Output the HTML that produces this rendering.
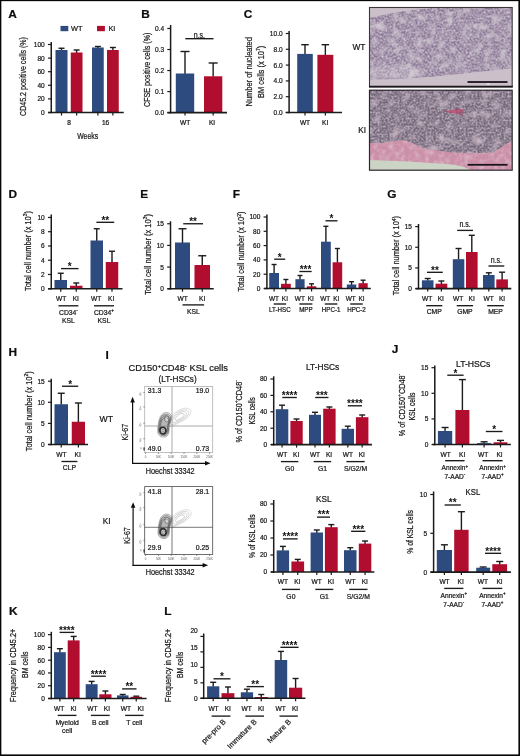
<!DOCTYPE html>
<html lang="en">
<head>
<meta charset="utf-8">
<title>Figure</title>
<style>
html,body{margin:0;padding:0;background:#fff;}
body{width:520px;height:756px;overflow:hidden;}
svg{display:block;font-family:"Liberation Sans",sans-serif;}
svg text{stroke:#1a1a1a;stroke-width:0.22px;}
</style>
</head>
<body>
<svg width="520" height="756" viewBox="0 0 520 756">
<defs><filter id="soft" x="0" y="0" width="100%" height="100%" filterUnits="objectBoundingBox"><feGaussianBlur stdDeviation="0.38"/></filter></defs>
<g filter="url(#soft)">
<rect x="0" y="0" width="520" height="756" fill="#ffffff"/>
<text transform="translate(8.2 18.4) scale(1.080 1)" font-size="11" text-anchor="start" fill="#0c0c0c" font-weight="700">A</text>
<rect x="60.5" y="25.9" width="7.8" height="5.3" fill="#2d4b7f"/>
<text transform="translate(71.1 31)" font-size="7.4" text-anchor="start" fill="#161616">WT</text>
<rect x="97" y="25.9" width="7.9" height="5.3" fill="#b10a2d"/>
<text transform="translate(108.4 31) scale(0.980 1)" font-size="7.4" text-anchor="start" fill="#161616">KI</text>
<line x1="61.5" y1="50.5" x2="61.5" y2="48.25" stroke="#1c1c1c" stroke-width="1.4"/>
<line x1="58.5" y1="48.25" x2="64.5" y2="48.25" stroke="#1c1c1c" stroke-width="1.4"/>
<rect x="55.5" y="50" width="12" height="62.5" fill="#2d4b7f"/>
<line x1="61.5" y1="112.5" x2="61.5" y2="115.5" stroke="#1a1a1a" stroke-width="1.2"/>
<line x1="76.62" y1="53" x2="76.62" y2="50" stroke="#1c1c1c" stroke-width="1.4"/>
<line x1="73.62" y1="50" x2="79.62" y2="50" stroke="#1c1c1c" stroke-width="1.4"/>
<rect x="70.75" y="52.5" width="11.75" height="60" fill="#b10a2d"/>
<line x1="76.62" y1="112.5" x2="76.62" y2="115.5" stroke="#1a1a1a" stroke-width="1.2"/>
<line x1="97.88" y1="48" x2="97.88" y2="46.5" stroke="#1c1c1c" stroke-width="1.4"/>
<line x1="94.88" y1="46.5" x2="100.88" y2="46.5" stroke="#1c1c1c" stroke-width="1.4"/>
<rect x="92" y="47.5" width="11.75" height="65" fill="#2d4b7f"/>
<line x1="97.88" y1="112.5" x2="97.88" y2="115.5" stroke="#1a1a1a" stroke-width="1.2"/>
<line x1="112.88" y1="50.5" x2="112.88" y2="47.5" stroke="#1c1c1c" stroke-width="1.4"/>
<line x1="109.88" y1="47.5" x2="115.88" y2="47.5" stroke="#1c1c1c" stroke-width="1.4"/>
<rect x="107" y="50" width="11.75" height="62.5" fill="#b10a2d"/>
<line x1="112.88" y1="112.5" x2="112.88" y2="115.5" stroke="#1a1a1a" stroke-width="1.2"/>
<line x1="51.25" y1="42" x2="51.25" y2="113.3" stroke="#1a1a1a" stroke-width="1.5"/>
<line x1="48" y1="112.5" x2="123.75" y2="112.5" stroke="#1a1a1a" stroke-width="1.6"/>
<line x1="47.95" y1="112.5" x2="51.25" y2="112.5" stroke="#1a1a1a" stroke-width="1.2"/>
<text transform="translate(44.75 114.95) scale(0.950 1)" font-size="6.9" text-anchor="end" fill="#161616">0</text>
<line x1="47.95" y1="98.9" x2="51.25" y2="98.9" stroke="#1a1a1a" stroke-width="1.2"/>
<text transform="translate(44.75 101.35) scale(0.950 1)" font-size="6.9" text-anchor="end" fill="#161616">20</text>
<line x1="47.95" y1="85.3" x2="51.25" y2="85.3" stroke="#1a1a1a" stroke-width="1.2"/>
<text transform="translate(44.75 87.75) scale(0.950 1)" font-size="6.9" text-anchor="end" fill="#161616">40</text>
<line x1="47.95" y1="71.7" x2="51.25" y2="71.7" stroke="#1a1a1a" stroke-width="1.2"/>
<text transform="translate(44.75 74.15) scale(0.950 1)" font-size="6.9" text-anchor="end" fill="#161616">60</text>
<line x1="47.95" y1="58.1" x2="51.25" y2="58.1" stroke="#1a1a1a" stroke-width="1.2"/>
<text transform="translate(44.75 60.55) scale(0.950 1)" font-size="6.9" text-anchor="end" fill="#161616">80</text>
<line x1="47.95" y1="44.5" x2="51.25" y2="44.5" stroke="#1a1a1a" stroke-width="1.2"/>
<text transform="translate(44.75 46.95) scale(0.950 1)" font-size="6.9" text-anchor="end" fill="#161616">100</text>
<text transform="translate(69 125)" font-size="6.6" text-anchor="middle" fill="#161616">8</text>
<text transform="translate(105.6 125)" font-size="6.6" text-anchor="middle" fill="#161616">16</text>
<text transform="translate(87.7 138.6) scale(0.768 1)" font-size="9" text-anchor="middle" fill="#161616">Weeks</text>
<text transform="translate(26.1 76.5) rotate(-90) scale(0.786 1)" font-size="9" text-anchor="middle" fill="#161616">CD45.2 positive cells (%)</text>
<text transform="translate(141.2 17.8) scale(1.080 1)" font-size="11" text-anchor="start" fill="#0c0c0c" font-weight="700">B</text>
<line x1="185" y1="74" x2="185" y2="51.5" stroke="#1c1c1c" stroke-width="1.4"/>
<line x1="180.5" y1="51.5" x2="189.5" y2="51.5" stroke="#1c1c1c" stroke-width="1.4"/>
<rect x="175.8" y="73.5" width="18.4" height="39.1" fill="#2d4b7f"/>
<line x1="185" y1="112.6" x2="185" y2="115.6" stroke="#1a1a1a" stroke-width="1.2"/>
<line x1="213.15" y1="76.8" x2="213.15" y2="63" stroke="#1c1c1c" stroke-width="1.4"/>
<line x1="208.65" y1="63" x2="217.65" y2="63" stroke="#1c1c1c" stroke-width="1.4"/>
<rect x="204" y="76.3" width="18.3" height="36.3" fill="#b10a2d"/>
<line x1="213.15" y1="112.6" x2="213.15" y2="115.6" stroke="#1a1a1a" stroke-width="1.2"/>
<line x1="170.6" y1="25" x2="170.6" y2="113.4" stroke="#1a1a1a" stroke-width="1.5"/>
<line x1="167.5" y1="112.6" x2="227" y2="112.6" stroke="#1a1a1a" stroke-width="1.6"/>
<line x1="167.3" y1="112.6" x2="170.6" y2="112.6" stroke="#1a1a1a" stroke-width="1.2"/>
<text transform="translate(164.1 115.05) scale(0.950 1)" font-size="6.9" text-anchor="end" fill="#161616">0.0</text>
<line x1="167.3" y1="91.57" x2="170.6" y2="91.57" stroke="#1a1a1a" stroke-width="1.2"/>
<text transform="translate(164.1 94.02) scale(0.950 1)" font-size="6.9" text-anchor="end" fill="#161616">0.1</text>
<line x1="167.3" y1="70.54" x2="170.6" y2="70.54" stroke="#1a1a1a" stroke-width="1.2"/>
<text transform="translate(164.1 72.99) scale(0.950 1)" font-size="6.9" text-anchor="end" fill="#161616">0.2</text>
<line x1="167.3" y1="49.51" x2="170.6" y2="49.51" stroke="#1a1a1a" stroke-width="1.2"/>
<text transform="translate(164.1 51.96) scale(0.950 1)" font-size="6.9" text-anchor="end" fill="#161616">0.3</text>
<line x1="167.3" y1="28.48" x2="170.6" y2="28.48" stroke="#1a1a1a" stroke-width="1.2"/>
<text transform="translate(164.1 30.93) scale(0.950 1)" font-size="6.9" text-anchor="end" fill="#161616">0.4</text>
<line x1="185.3" y1="38.7" x2="213.5" y2="38.7" stroke="#1a1a1a" stroke-width="1.35"/>
<text transform="translate(199.4 37.9) scale(0.840 1)" font-size="8.4" text-anchor="middle" fill="#161616">n.s.</text>
<text transform="translate(185.2 124.8)" font-size="6.6" text-anchor="middle" fill="#161616">WT</text>
<text transform="translate(212 124.8)" font-size="6.6" text-anchor="middle" fill="#161616">KI</text>
<text transform="translate(149.6 69.75) rotate(-90) scale(0.792 1)" font-size="9" text-anchor="middle" fill="#161616">CFSE positive cells (%)</text>
<text transform="translate(243.8 18) scale(1.080 1)" font-size="11" text-anchor="start" fill="#0c0c0c" font-weight="700">C</text>
<line x1="305" y1="54.4" x2="305" y2="44.7" stroke="#1c1c1c" stroke-width="1.4"/>
<line x1="301.25" y1="44.7" x2="308.75" y2="44.7" stroke="#1c1c1c" stroke-width="1.4"/>
<rect x="297.2" y="53.9" width="15.6" height="58.6" fill="#2d4b7f"/>
<line x1="305" y1="112.5" x2="305" y2="115.5" stroke="#1a1a1a" stroke-width="1.2"/>
<line x1="325.35" y1="55.3" x2="325.35" y2="44.7" stroke="#1c1c1c" stroke-width="1.4"/>
<line x1="321.6" y1="44.7" x2="329.1" y2="44.7" stroke="#1c1c1c" stroke-width="1.4"/>
<rect x="317.4" y="54.8" width="15.9" height="57.7" fill="#b10a2d"/>
<line x1="325.35" y1="112.5" x2="325.35" y2="115.5" stroke="#1a1a1a" stroke-width="1.2"/>
<line x1="289.1" y1="31" x2="289.1" y2="113.3" stroke="#1a1a1a" stroke-width="1.5"/>
<line x1="285.7" y1="112.5" x2="342" y2="112.5" stroke="#1a1a1a" stroke-width="1.6"/>
<line x1="285.8" y1="112.5" x2="289.1" y2="112.5" stroke="#1a1a1a" stroke-width="1.2"/>
<text transform="translate(282.6 114.95) scale(0.950 1)" font-size="6.9" text-anchor="end" fill="#161616">0.0</text>
<line x1="285.8" y1="96.7" x2="289.1" y2="96.7" stroke="#1a1a1a" stroke-width="1.2"/>
<text transform="translate(282.6 99.15) scale(0.950 1)" font-size="6.9" text-anchor="end" fill="#161616">2.0</text>
<line x1="285.8" y1="80.9" x2="289.1" y2="80.9" stroke="#1a1a1a" stroke-width="1.2"/>
<text transform="translate(282.6 83.35) scale(0.950 1)" font-size="6.9" text-anchor="end" fill="#161616">4.0</text>
<line x1="285.8" y1="65.1" x2="289.1" y2="65.1" stroke="#1a1a1a" stroke-width="1.2"/>
<text transform="translate(282.6 67.55) scale(0.950 1)" font-size="6.9" text-anchor="end" fill="#161616">6.0</text>
<line x1="285.8" y1="49.3" x2="289.1" y2="49.3" stroke="#1a1a1a" stroke-width="1.2"/>
<text transform="translate(282.6 51.75) scale(0.950 1)" font-size="6.9" text-anchor="end" fill="#161616">8.0</text>
<line x1="285.8" y1="33.5" x2="289.1" y2="33.5" stroke="#1a1a1a" stroke-width="1.2"/>
<text transform="translate(282.6 35.95) scale(0.950 1)" font-size="6.9" text-anchor="end" fill="#161616">10.0</text>
<text transform="translate(305 124.6)" font-size="6.6" text-anchor="middle" fill="#161616">WT</text>
<text transform="translate(325.2 124.6)" font-size="6.6" text-anchor="middle" fill="#161616">KI</text>
<text transform="translate(252.4 71.8) rotate(-90) scale(0.832 1)" font-size="9" text-anchor="middle" fill="#161616">Number of nucleated</text>
<text transform="translate(263.9 71.8) rotate(-90) scale(0.831 1)" font-size="9" text-anchor="middle" fill="#161616">BM cells (x 10<tspan dy="-3.78" font-size="6.12">7</tspan><tspan dy="3.78">)</tspan></text>
<text transform="translate(365.4 50.3)" font-size="8.3" text-anchor="end" fill="#161616">WT</text>
<text transform="translate(366 133.2) scale(0.980 1)" font-size="8.3" text-anchor="end" fill="#161616">KI</text>
<text transform="translate(8.5 198) scale(1.080 1)" font-size="11" text-anchor="start" fill="#0c0c0c" font-weight="700">D</text>
<line x1="60.75" y1="280.5" x2="60.75" y2="273.25" stroke="#1c1c1c" stroke-width="1.4"/>
<line x1="57.75" y1="273.25" x2="63.75" y2="273.25" stroke="#1c1c1c" stroke-width="1.4"/>
<rect x="54.5" y="280" width="12.5" height="8.75" fill="#2d4b7f"/>
<line x1="60.75" y1="288.75" x2="60.75" y2="291.75" stroke="#1a1a1a" stroke-width="1.2"/>
<line x1="76.25" y1="286.25" x2="76.25" y2="283" stroke="#1c1c1c" stroke-width="1.4"/>
<line x1="73.25" y1="283" x2="79.25" y2="283" stroke="#1c1c1c" stroke-width="1.4"/>
<rect x="70" y="285.75" width="12.5" height="3" fill="#b10a2d"/>
<line x1="76.25" y1="288.75" x2="76.25" y2="291.75" stroke="#1a1a1a" stroke-width="1.2"/>
<line x1="96.75" y1="241" x2="96.75" y2="228.75" stroke="#1c1c1c" stroke-width="1.4"/>
<line x1="93.75" y1="228.75" x2="99.75" y2="228.75" stroke="#1c1c1c" stroke-width="1.4"/>
<rect x="90.5" y="240.5" width="12.5" height="48.25" fill="#2d4b7f"/>
<line x1="96.75" y1="288.75" x2="96.75" y2="291.75" stroke="#1a1a1a" stroke-width="1.2"/>
<line x1="112" y1="262.5" x2="112" y2="251.25" stroke="#1c1c1c" stroke-width="1.4"/>
<line x1="109" y1="251.25" x2="115" y2="251.25" stroke="#1c1c1c" stroke-width="1.4"/>
<rect x="105.75" y="262" width="12.5" height="26.75" fill="#b10a2d"/>
<line x1="112" y1="288.75" x2="112" y2="291.75" stroke="#1a1a1a" stroke-width="1.2"/>
<line x1="51.25" y1="214.5" x2="51.25" y2="289.55" stroke="#1a1a1a" stroke-width="1.5"/>
<line x1="48" y1="288.75" x2="122.5" y2="288.75" stroke="#1a1a1a" stroke-width="1.6"/>
<line x1="47.95" y1="288.75" x2="51.25" y2="288.75" stroke="#1a1a1a" stroke-width="1.2"/>
<text transform="translate(44.75 291.2) scale(0.950 1)" font-size="6.9" text-anchor="end" fill="#161616">0</text>
<line x1="47.95" y1="274.49" x2="51.25" y2="274.49" stroke="#1a1a1a" stroke-width="1.2"/>
<text transform="translate(44.75 276.94) scale(0.950 1)" font-size="6.9" text-anchor="end" fill="#161616">2</text>
<line x1="47.95" y1="260.23" x2="51.25" y2="260.23" stroke="#1a1a1a" stroke-width="1.2"/>
<text transform="translate(44.75 262.68) scale(0.950 1)" font-size="6.9" text-anchor="end" fill="#161616">4</text>
<line x1="47.95" y1="245.97" x2="51.25" y2="245.97" stroke="#1a1a1a" stroke-width="1.2"/>
<text transform="translate(44.75 248.42) scale(0.950 1)" font-size="6.9" text-anchor="end" fill="#161616">6</text>
<line x1="47.95" y1="231.71" x2="51.25" y2="231.71" stroke="#1a1a1a" stroke-width="1.2"/>
<text transform="translate(44.75 234.16) scale(0.950 1)" font-size="6.9" text-anchor="end" fill="#161616">8</text>
<line x1="47.95" y1="217.45" x2="51.25" y2="217.45" stroke="#1a1a1a" stroke-width="1.2"/>
<text transform="translate(44.75 219.9) scale(0.950 1)" font-size="6.9" text-anchor="end" fill="#161616">10</text>
<line x1="61" y1="268.6" x2="78.5" y2="268.6" stroke="#1a1a1a" stroke-width="1.35"/>
<text transform="translate(69.75 269.9)" font-size="10" text-anchor="middle" fill="#111" font-weight="700" style="stroke:none">*</text>
<line x1="96.4" y1="222.3" x2="114.2" y2="222.3" stroke="#1a1a1a" stroke-width="1.35"/>
<text transform="translate(105.3 223.6)" font-size="10" text-anchor="middle" fill="#111" font-weight="700" style="stroke:none">**</text>
<text transform="translate(61.1 300.9)" font-size="6.6" text-anchor="middle" fill="#161616">WT</text>
<text transform="translate(75.8 300.9)" font-size="6.6" text-anchor="middle" fill="#161616">KI</text>
<text transform="translate(96.2 300.9)" font-size="6.6" text-anchor="middle" fill="#161616">WT</text>
<text transform="translate(111.1 300.9)" font-size="6.6" text-anchor="middle" fill="#161616">KI</text>
<line x1="58.5" y1="305.8" x2="78.4" y2="305.8" stroke="#1a1a1a" stroke-width="1.35"/>
<text transform="translate(68.45 314.8)" font-size="6.8" text-anchor="middle" fill="#161616">CD34<tspan dy="-2.86" font-size="4.62">-</tspan></text>
<text transform="translate(68.45 323.1)" font-size="6.8" text-anchor="middle" fill="#161616">KSL</text>
<line x1="94" y1="305.8" x2="114" y2="305.8" stroke="#1a1a1a" stroke-width="1.35"/>
<text transform="translate(104 314.8)" font-size="6.8" text-anchor="middle" fill="#161616">CD34<tspan dy="-2.86" font-size="4.62">+</tspan></text>
<text transform="translate(104 323.1)" font-size="6.8" text-anchor="middle" fill="#161616">KSL</text>
<text transform="translate(30.8 251) rotate(-90) scale(0.825 1)" font-size="9" text-anchor="middle" fill="#161616">Total cell number (x 10<tspan dy="-3.78" font-size="6.12">3</tspan><tspan dy="3.78">)</tspan></text>
<text transform="translate(140.3 198) scale(1.080 1)" font-size="11" text-anchor="start" fill="#0c0c0c" font-weight="700">E</text>
<line x1="182.5" y1="243" x2="182.5" y2="228.75" stroke="#1c1c1c" stroke-width="1.4"/>
<line x1="178.5" y1="228.75" x2="186.5" y2="228.75" stroke="#1c1c1c" stroke-width="1.4"/>
<rect x="175" y="242.5" width="15" height="46.25" fill="#2d4b7f"/>
<line x1="182.5" y1="288.75" x2="182.5" y2="291.75" stroke="#1a1a1a" stroke-width="1.2"/>
<line x1="202.25" y1="265.5" x2="202.25" y2="255.75" stroke="#1c1c1c" stroke-width="1.4"/>
<line x1="198.25" y1="255.75" x2="206.25" y2="255.75" stroke="#1c1c1c" stroke-width="1.4"/>
<rect x="194.5" y="265" width="15.5" height="23.75" fill="#b10a2d"/>
<line x1="202.25" y1="288.75" x2="202.25" y2="291.75" stroke="#1a1a1a" stroke-width="1.2"/>
<line x1="170.5" y1="221.25" x2="170.5" y2="289.55" stroke="#1a1a1a" stroke-width="1.5"/>
<line x1="167.5" y1="288.75" x2="213.75" y2="288.75" stroke="#1a1a1a" stroke-width="1.6"/>
<line x1="167.2" y1="288.75" x2="170.5" y2="288.75" stroke="#1a1a1a" stroke-width="1.2"/>
<text transform="translate(164 291.2) scale(0.950 1)" font-size="6.9" text-anchor="end" fill="#161616">0</text>
<line x1="167.2" y1="267.08" x2="170.5" y2="267.08" stroke="#1a1a1a" stroke-width="1.2"/>
<text transform="translate(164 269.53) scale(0.950 1)" font-size="6.9" text-anchor="end" fill="#161616">5</text>
<line x1="167.2" y1="245.42" x2="170.5" y2="245.42" stroke="#1a1a1a" stroke-width="1.2"/>
<text transform="translate(164 247.87) scale(0.950 1)" font-size="6.9" text-anchor="end" fill="#161616">10</text>
<line x1="167.2" y1="223.75" x2="170.5" y2="223.75" stroke="#1a1a1a" stroke-width="1.2"/>
<text transform="translate(164 226.2) scale(0.950 1)" font-size="6.9" text-anchor="end" fill="#161616">15</text>
<line x1="183.25" y1="223.75" x2="203" y2="223.75" stroke="#1a1a1a" stroke-width="1.35"/>
<text transform="translate(193.12 225.05)" font-size="10" text-anchor="middle" fill="#111" font-weight="700" style="stroke:none">**</text>
<text transform="translate(182.7 300.9)" font-size="6.6" text-anchor="middle" fill="#161616">WT</text>
<text transform="translate(202.2 300.9)" font-size="6.6" text-anchor="middle" fill="#161616">KI</text>
<line x1="182.5" y1="304.9" x2="204.1" y2="304.9" stroke="#1a1a1a" stroke-width="1.35"/>
<text transform="translate(193.3 313.6)" font-size="6.8" text-anchor="middle" fill="#161616">KSL</text>
<text transform="translate(150.8 254.4) rotate(-90) scale(0.836 1)" font-size="9" text-anchor="middle" fill="#161616">Total cell number (x 10<tspan dy="-3.78" font-size="6.12">3</tspan><tspan dy="3.78">)</tspan></text>
<text transform="translate(232.8 198) scale(1.080 1)" font-size="11" text-anchor="start" fill="#0c0c0c" font-weight="700">F</text>
<line x1="274.1" y1="273.5" x2="274.1" y2="264.5" stroke="#1c1c1c" stroke-width="1.4"/>
<line x1="271.6" y1="264.5" x2="276.6" y2="264.5" stroke="#1c1c1c" stroke-width="1.4"/>
<rect x="269.2" y="273" width="9.8" height="15.5" fill="#2d4b7f"/>
<line x1="274.1" y1="288.5" x2="274.1" y2="291.5" stroke="#1a1a1a" stroke-width="1.2"/>
<line x1="285.9" y1="284.3" x2="285.9" y2="279.5" stroke="#1c1c1c" stroke-width="1.4"/>
<line x1="283.4" y1="279.5" x2="288.4" y2="279.5" stroke="#1c1c1c" stroke-width="1.4"/>
<rect x="281" y="283.8" width="9.8" height="4.7" fill="#b10a2d"/>
<line x1="285.9" y1="288.5" x2="285.9" y2="291.5" stroke="#1a1a1a" stroke-width="1.2"/>
<line x1="300" y1="279.7" x2="300" y2="275.5" stroke="#1c1c1c" stroke-width="1.4"/>
<line x1="297.5" y1="275.5" x2="302.5" y2="275.5" stroke="#1c1c1c" stroke-width="1.4"/>
<rect x="295.4" y="279.2" width="9.2" height="9.3" fill="#2d4b7f"/>
<line x1="300" y1="288.5" x2="300" y2="291.5" stroke="#1a1a1a" stroke-width="1.2"/>
<line x1="311.55" y1="286.8" x2="311.55" y2="283.8" stroke="#1c1c1c" stroke-width="1.4"/>
<line x1="309.05" y1="283.8" x2="314.05" y2="283.8" stroke="#1c1c1c" stroke-width="1.4"/>
<rect x="306.8" y="286.3" width="9.5" height="2.2" fill="#b10a2d"/>
<line x1="311.55" y1="288.5" x2="311.55" y2="291.5" stroke="#1a1a1a" stroke-width="1.2"/>
<line x1="325.9" y1="242.2" x2="325.9" y2="226.3" stroke="#1c1c1c" stroke-width="1.4"/>
<line x1="323.4" y1="226.3" x2="328.4" y2="226.3" stroke="#1c1c1c" stroke-width="1.4"/>
<rect x="321" y="241.7" width="9.8" height="46.8" fill="#2d4b7f"/>
<line x1="325.9" y1="288.5" x2="325.9" y2="291.5" stroke="#1a1a1a" stroke-width="1.2"/>
<line x1="337.4" y1="262.8" x2="337.4" y2="248.5" stroke="#1c1c1c" stroke-width="1.4"/>
<line x1="334.9" y1="248.5" x2="339.9" y2="248.5" stroke="#1c1c1c" stroke-width="1.4"/>
<rect x="332.6" y="262.3" width="9.6" height="26.2" fill="#b10a2d"/>
<line x1="337.4" y1="288.5" x2="337.4" y2="291.5" stroke="#1a1a1a" stroke-width="1.2"/>
<line x1="351.55" y1="285" x2="351.55" y2="281.7" stroke="#1c1c1c" stroke-width="1.4"/>
<line x1="349.05" y1="281.7" x2="354.05" y2="281.7" stroke="#1c1c1c" stroke-width="1.4"/>
<rect x="346.8" y="284.5" width="9.5" height="4" fill="#2d4b7f"/>
<line x1="351.55" y1="288.5" x2="351.55" y2="291.5" stroke="#1a1a1a" stroke-width="1.2"/>
<line x1="363.1" y1="283.7" x2="363.1" y2="280.2" stroke="#1c1c1c" stroke-width="1.4"/>
<line x1="360.6" y1="280.2" x2="365.6" y2="280.2" stroke="#1c1c1c" stroke-width="1.4"/>
<rect x="358.5" y="283.2" width="9.2" height="5.3" fill="#b10a2d"/>
<line x1="363.1" y1="288.5" x2="363.1" y2="291.5" stroke="#1a1a1a" stroke-width="1.2"/>
<line x1="266.9" y1="214.6" x2="266.9" y2="289.3" stroke="#1a1a1a" stroke-width="1.5"/>
<line x1="264" y1="288.5" x2="370.8" y2="288.5" stroke="#1a1a1a" stroke-width="1.6"/>
<line x1="263.6" y1="288.5" x2="266.9" y2="288.5" stroke="#1a1a1a" stroke-width="1.2"/>
<text transform="translate(260.4 290.95) scale(0.950 1)" font-size="6.9" text-anchor="end" fill="#161616">0</text>
<line x1="263.6" y1="274.2" x2="266.9" y2="274.2" stroke="#1a1a1a" stroke-width="1.2"/>
<text transform="translate(260.4 276.65) scale(0.950 1)" font-size="6.9" text-anchor="end" fill="#161616">20</text>
<line x1="263.6" y1="259.9" x2="266.9" y2="259.9" stroke="#1a1a1a" stroke-width="1.2"/>
<text transform="translate(260.4 262.35) scale(0.950 1)" font-size="6.9" text-anchor="end" fill="#161616">40</text>
<line x1="263.6" y1="245.6" x2="266.9" y2="245.6" stroke="#1a1a1a" stroke-width="1.2"/>
<text transform="translate(260.4 248.05) scale(0.950 1)" font-size="6.9" text-anchor="end" fill="#161616">60</text>
<line x1="263.6" y1="231.3" x2="266.9" y2="231.3" stroke="#1a1a1a" stroke-width="1.2"/>
<text transform="translate(260.4 233.75) scale(0.950 1)" font-size="6.9" text-anchor="end" fill="#161616">80</text>
<line x1="263.6" y1="217" x2="266.9" y2="217" stroke="#1a1a1a" stroke-width="1.2"/>
<text transform="translate(260.4 219.45) scale(0.950 1)" font-size="6.9" text-anchor="end" fill="#161616">100</text>
<line x1="274.2" y1="259.2" x2="285.2" y2="259.2" stroke="#1a1a1a" stroke-width="1.35"/>
<text transform="translate(279.7 260.5)" font-size="10" text-anchor="middle" fill="#111" font-weight="700" style="stroke:none">*</text>
<line x1="299.4" y1="271.5" x2="311.7" y2="271.5" stroke="#1a1a1a" stroke-width="1.35"/>
<text transform="translate(305.55 272.8)" font-size="10" text-anchor="middle" fill="#111" font-weight="700" style="stroke:none">***</text>
<line x1="325.5" y1="220.8" x2="337.5" y2="220.8" stroke="#1a1a1a" stroke-width="1.35"/>
<text transform="translate(331.5 222.1)" font-size="10" text-anchor="middle" fill="#111" font-weight="700" style="stroke:none">*</text>
<text transform="translate(274 301.1) scale(0.980 1)" font-size="6.6" text-anchor="middle" fill="#161616">WT</text>
<text transform="translate(284.9 301.1) scale(0.980 1)" font-size="6.6" text-anchor="middle" fill="#161616">KI</text>
<text transform="translate(299.8 301.1) scale(0.980 1)" font-size="6.6" text-anchor="middle" fill="#161616">WT</text>
<text transform="translate(310.7 301.1) scale(0.980 1)" font-size="6.6" text-anchor="middle" fill="#161616">KI</text>
<text transform="translate(325.2 301.1) scale(0.980 1)" font-size="6.6" text-anchor="middle" fill="#161616">WT</text>
<text transform="translate(336.2 301.1) scale(0.980 1)" font-size="6.6" text-anchor="middle" fill="#161616">KI</text>
<text transform="translate(350.7 301.1) scale(0.980 1)" font-size="6.6" text-anchor="middle" fill="#161616">WT</text>
<text transform="translate(361.6 301.1) scale(0.980 1)" font-size="6.6" text-anchor="middle" fill="#161616">KI</text>
<line x1="273.7" y1="304" x2="286.1" y2="304" stroke="#1a1a1a" stroke-width="1.35"/>
<text transform="translate(279.9 312.4) scale(0.970 1)" font-size="6.4" text-anchor="middle" fill="#161616">LT-HSC</text>
<line x1="299.4" y1="304" x2="312.4" y2="304" stroke="#1a1a1a" stroke-width="1.35"/>
<text transform="translate(305.9 312.4) scale(0.970 1)" font-size="6.4" text-anchor="middle" fill="#161616">MPP</text>
<line x1="324.8" y1="304" x2="337.4" y2="304" stroke="#1a1a1a" stroke-width="1.35"/>
<text transform="translate(331.1 312.4) scale(0.970 1)" font-size="6.4" text-anchor="middle" fill="#161616">HPC-1</text>
<line x1="350.2" y1="304" x2="362.8" y2="304" stroke="#1a1a1a" stroke-width="1.35"/>
<text transform="translate(356.5 312.4) scale(0.970 1)" font-size="6.4" text-anchor="middle" fill="#161616">HPC-2</text>
<text transform="translate(244.4 251.5) rotate(-90) scale(0.825 1)" font-size="9" text-anchor="middle" fill="#161616">Total cell number (x 10<tspan dy="-3.78" font-size="6.12">2</tspan><tspan dy="3.78">)</tspan></text>
<text transform="translate(387.2 198) scale(1.080 1)" font-size="11" text-anchor="start" fill="#0c0c0c" font-weight="700">G</text>
<line x1="427.7" y1="280.8" x2="427.7" y2="278.5" stroke="#1c1c1c" stroke-width="1.4"/>
<line x1="424.7" y1="278.5" x2="430.7" y2="278.5" stroke="#1c1c1c" stroke-width="1.4"/>
<rect x="421.9" y="280.3" width="11.6" height="8.3" fill="#2d4b7f"/>
<line x1="427.7" y1="288.6" x2="427.7" y2="291.6" stroke="#1a1a1a" stroke-width="1.2"/>
<line x1="441.4" y1="284.2" x2="441.4" y2="281" stroke="#1c1c1c" stroke-width="1.4"/>
<line x1="438.4" y1="281" x2="444.4" y2="281" stroke="#1c1c1c" stroke-width="1.4"/>
<rect x="435.5" y="283.7" width="11.8" height="4.9" fill="#b10a2d"/>
<line x1="441.4" y1="288.6" x2="441.4" y2="291.6" stroke="#1a1a1a" stroke-width="1.2"/>
<line x1="458.55" y1="259.7" x2="458.55" y2="248.5" stroke="#1c1c1c" stroke-width="1.4"/>
<line x1="455.55" y1="248.5" x2="461.55" y2="248.5" stroke="#1c1c1c" stroke-width="1.4"/>
<rect x="452.8" y="259.2" width="11.5" height="29.4" fill="#2d4b7f"/>
<line x1="458.55" y1="288.6" x2="458.55" y2="291.6" stroke="#1a1a1a" stroke-width="1.2"/>
<line x1="471.8" y1="252.5" x2="471.8" y2="235.3" stroke="#1c1c1c" stroke-width="1.4"/>
<line x1="468.8" y1="235.3" x2="474.8" y2="235.3" stroke="#1c1c1c" stroke-width="1.4"/>
<rect x="466" y="252" width="11.6" height="36.6" fill="#b10a2d"/>
<line x1="471.8" y1="288.6" x2="471.8" y2="291.6" stroke="#1a1a1a" stroke-width="1.2"/>
<line x1="488.8" y1="275.5" x2="488.8" y2="272.8" stroke="#1c1c1c" stroke-width="1.4"/>
<line x1="485.8" y1="272.8" x2="491.8" y2="272.8" stroke="#1c1c1c" stroke-width="1.4"/>
<rect x="483" y="275" width="11.6" height="13.6" fill="#2d4b7f"/>
<line x1="488.8" y1="288.6" x2="488.8" y2="291.6" stroke="#1a1a1a" stroke-width="1.2"/>
<line x1="502.1" y1="279.9" x2="502.1" y2="272.2" stroke="#1c1c1c" stroke-width="1.4"/>
<line x1="499.1" y1="272.2" x2="505.1" y2="272.2" stroke="#1c1c1c" stroke-width="1.4"/>
<rect x="496.3" y="279.4" width="11.6" height="9.2" fill="#b10a2d"/>
<line x1="502.1" y1="288.6" x2="502.1" y2="291.6" stroke="#1a1a1a" stroke-width="1.2"/>
<line x1="418.5" y1="224" x2="418.5" y2="289.4" stroke="#1a1a1a" stroke-width="1.5"/>
<line x1="415.6" y1="288.6" x2="511.3" y2="288.6" stroke="#1a1a1a" stroke-width="1.6"/>
<line x1="415.2" y1="288.6" x2="418.5" y2="288.6" stroke="#1a1a1a" stroke-width="1.2"/>
<text transform="translate(412 291.05) scale(0.950 1)" font-size="6.9" text-anchor="end" fill="#161616">0</text>
<line x1="415.2" y1="267.94" x2="418.5" y2="267.94" stroke="#1a1a1a" stroke-width="1.2"/>
<text transform="translate(412 270.38) scale(0.950 1)" font-size="6.9" text-anchor="end" fill="#161616">5</text>
<line x1="415.2" y1="247.27" x2="418.5" y2="247.27" stroke="#1a1a1a" stroke-width="1.2"/>
<text transform="translate(412 249.72) scale(0.950 1)" font-size="6.9" text-anchor="end" fill="#161616">10</text>
<line x1="415.2" y1="226.61" x2="418.5" y2="226.61" stroke="#1a1a1a" stroke-width="1.2"/>
<text transform="translate(412 229.05) scale(0.950 1)" font-size="6.9" text-anchor="end" fill="#161616">15</text>
<line x1="427" y1="272.3" x2="442.8" y2="272.3" stroke="#1a1a1a" stroke-width="1.35"/>
<text transform="translate(434.9 273.6)" font-size="10" text-anchor="middle" fill="#111" font-weight="700" style="stroke:none">**</text>
<line x1="457.2" y1="230.4" x2="473" y2="230.4" stroke="#1a1a1a" stroke-width="1.35"/>
<text transform="translate(465.1 227.4) scale(0.840 1)" font-size="8.4" text-anchor="middle" fill="#161616">n.s.</text>
<line x1="488.5" y1="266" x2="504.3" y2="266" stroke="#1a1a1a" stroke-width="1.35"/>
<text transform="translate(496.4 263) scale(0.840 1)" font-size="8.4" text-anchor="middle" fill="#161616">n.s.</text>
<text transform="translate(427.2 300.9)" font-size="6.6" text-anchor="middle" fill="#161616">WT</text>
<text transform="translate(440.8 300.9)" font-size="6.6" text-anchor="middle" fill="#161616">KI</text>
<text transform="translate(458.2 300.9)" font-size="6.6" text-anchor="middle" fill="#161616">WT</text>
<text transform="translate(471.6 300.9)" font-size="6.6" text-anchor="middle" fill="#161616">KI</text>
<text transform="translate(488.7 300.9)" font-size="6.6" text-anchor="middle" fill="#161616">WT</text>
<text transform="translate(502 300.9)" font-size="6.6" text-anchor="middle" fill="#161616">KI</text>
<line x1="426.2" y1="305.7" x2="442.3" y2="305.7" stroke="#1a1a1a" stroke-width="1.35"/>
<text transform="translate(434.25 314.3)" font-size="6.8" text-anchor="middle" fill="#161616">CMP</text>
<line x1="456.7" y1="305.7" x2="473.1" y2="305.7" stroke="#1a1a1a" stroke-width="1.35"/>
<text transform="translate(464.9 314.3)" font-size="6.8" text-anchor="middle" fill="#161616">GMP</text>
<line x1="487.2" y1="305.7" x2="503.8" y2="305.7" stroke="#1a1a1a" stroke-width="1.35"/>
<text transform="translate(495.5 314.3)" font-size="6.8" text-anchor="middle" fill="#161616">MEP</text>
<text transform="translate(399.3 255.6) rotate(-90) scale(0.818 1)" font-size="9" text-anchor="middle" fill="#161616">Total cell number (x 10<tspan dy="-3.78" font-size="6.12">4</tspan><tspan dy="3.78">)</tspan></text>
<text transform="translate(8.5 356.2) scale(1.080 1)" font-size="11" text-anchor="start" fill="#0c0c0c" font-weight="700">H</text>
<line x1="61.25" y1="404.75" x2="61.25" y2="393.25" stroke="#1c1c1c" stroke-width="1.4"/>
<line x1="57.75" y1="393.25" x2="64.75" y2="393.25" stroke="#1c1c1c" stroke-width="1.4"/>
<rect x="54.5" y="404.25" width="13.5" height="40.25" fill="#2d4b7f"/>
<line x1="61.25" y1="444.5" x2="61.25" y2="447.5" stroke="#1a1a1a" stroke-width="1.2"/>
<line x1="78.38" y1="422.25" x2="78.38" y2="403" stroke="#1c1c1c" stroke-width="1.4"/>
<line x1="74.88" y1="403" x2="81.88" y2="403" stroke="#1c1c1c" stroke-width="1.4"/>
<rect x="71.75" y="421.75" width="13.25" height="22.75" fill="#b10a2d"/>
<line x1="78.38" y1="444.5" x2="78.38" y2="447.5" stroke="#1a1a1a" stroke-width="1.2"/>
<line x1="51.25" y1="378.75" x2="51.25" y2="445.3" stroke="#1a1a1a" stroke-width="1.5"/>
<line x1="48.25" y1="444.5" x2="88" y2="444.5" stroke="#1a1a1a" stroke-width="1.6"/>
<line x1="47.95" y1="444.5" x2="51.25" y2="444.5" stroke="#1a1a1a" stroke-width="1.2"/>
<text transform="translate(44.75 446.95) scale(0.950 1)" font-size="6.9" text-anchor="end" fill="#161616">0</text>
<line x1="47.95" y1="423.4" x2="51.25" y2="423.4" stroke="#1a1a1a" stroke-width="1.2"/>
<text transform="translate(44.75 425.85) scale(0.950 1)" font-size="6.9" text-anchor="end" fill="#161616">5</text>
<line x1="47.95" y1="402.3" x2="51.25" y2="402.3" stroke="#1a1a1a" stroke-width="1.2"/>
<text transform="translate(44.75 404.75) scale(0.950 1)" font-size="6.9" text-anchor="end" fill="#161616">10</text>
<line x1="47.95" y1="381.2" x2="51.25" y2="381.2" stroke="#1a1a1a" stroke-width="1.2"/>
<text transform="translate(44.75 383.65) scale(0.950 1)" font-size="6.9" text-anchor="end" fill="#161616">15</text>
<line x1="62" y1="386.25" x2="78.25" y2="386.25" stroke="#1a1a1a" stroke-width="1.35"/>
<text transform="translate(70.12 387.55)" font-size="10" text-anchor="middle" fill="#111" font-weight="700" style="stroke:none">*</text>
<text transform="translate(61.3 457.2)" font-size="6.6" text-anchor="middle" fill="#161616">WT</text>
<text transform="translate(77.6 457.2)" font-size="6.6" text-anchor="middle" fill="#161616">KI</text>
<line x1="61.5" y1="461.5" x2="77.4" y2="461.5" stroke="#1a1a1a" stroke-width="1.35"/>
<text transform="translate(69.45 470.3)" font-size="6.8" text-anchor="middle" fill="#161616">CLP</text>
<text transform="translate(31.5 411.25) rotate(-90) scale(0.825 1)" font-size="9" text-anchor="middle" fill="#161616">Total cell number (x 10<tspan dy="-3.78" font-size="6.12">2</tspan><tspan dy="3.78">)</tspan></text>
<text transform="translate(322.6 370.2) scale(1.017 1)" font-size="8.2" text-anchor="middle" fill="#161616">LT-HSCs</text>
<line x1="282.05" y1="409.7" x2="282.05" y2="405.2" stroke="#1c1c1c" stroke-width="1.4"/>
<line x1="279.05" y1="405.2" x2="285.05" y2="405.2" stroke="#1c1c1c" stroke-width="1.4"/>
<rect x="275.8" y="409.2" width="12.5" height="35.4" fill="#2d4b7f"/>
<line x1="282.05" y1="444.6" x2="282.05" y2="447.6" stroke="#1a1a1a" stroke-width="1.2"/>
<line x1="296.55" y1="421.5" x2="296.55" y2="419" stroke="#1c1c1c" stroke-width="1.4"/>
<line x1="293.55" y1="419" x2="299.55" y2="419" stroke="#1c1c1c" stroke-width="1.4"/>
<rect x="290.4" y="421" width="12.3" height="23.6" fill="#b10a2d"/>
<line x1="296.55" y1="444.6" x2="296.55" y2="447.6" stroke="#1a1a1a" stroke-width="1.2"/>
<line x1="315" y1="415.3" x2="315" y2="412.3" stroke="#1c1c1c" stroke-width="1.4"/>
<line x1="312" y1="412.3" x2="318" y2="412.3" stroke="#1c1c1c" stroke-width="1.4"/>
<rect x="309" y="414.8" width="12" height="29.8" fill="#2d4b7f"/>
<line x1="315" y1="444.6" x2="315" y2="447.6" stroke="#1a1a1a" stroke-width="1.2"/>
<line x1="329.4" y1="409.2" x2="329.4" y2="407" stroke="#1c1c1c" stroke-width="1.4"/>
<line x1="326.4" y1="407" x2="332.4" y2="407" stroke="#1c1c1c" stroke-width="1.4"/>
<rect x="323.2" y="408.7" width="12.4" height="35.9" fill="#b10a2d"/>
<line x1="329.4" y1="444.6" x2="329.4" y2="447.6" stroke="#1a1a1a" stroke-width="1.2"/>
<line x1="347.8" y1="429.3" x2="347.8" y2="426.2" stroke="#1c1c1c" stroke-width="1.4"/>
<line x1="344.8" y1="426.2" x2="350.8" y2="426.2" stroke="#1c1c1c" stroke-width="1.4"/>
<rect x="341.6" y="428.8" width="12.4" height="15.8" fill="#2d4b7f"/>
<line x1="347.8" y1="444.6" x2="347.8" y2="447.6" stroke="#1a1a1a" stroke-width="1.2"/>
<line x1="362.15" y1="417.7" x2="362.15" y2="415" stroke="#1c1c1c" stroke-width="1.4"/>
<line x1="359.15" y1="415" x2="365.15" y2="415" stroke="#1c1c1c" stroke-width="1.4"/>
<rect x="355.9" y="417.2" width="12.5" height="27.4" fill="#b10a2d"/>
<line x1="362.15" y1="444.6" x2="362.15" y2="447.6" stroke="#1a1a1a" stroke-width="1.2"/>
<line x1="273.7" y1="376.3" x2="273.7" y2="445.4" stroke="#1a1a1a" stroke-width="1.5"/>
<line x1="271" y1="444.6" x2="371.9" y2="444.6" stroke="#1a1a1a" stroke-width="1.6"/>
<line x1="270.4" y1="444.6" x2="273.7" y2="444.6" stroke="#1a1a1a" stroke-width="1.2"/>
<text transform="translate(267.2 447.05) scale(0.950 1)" font-size="6.9" text-anchor="end" fill="#161616">0</text>
<line x1="270.4" y1="428.2" x2="273.7" y2="428.2" stroke="#1a1a1a" stroke-width="1.2"/>
<text transform="translate(267.2 430.65) scale(0.950 1)" font-size="6.9" text-anchor="end" fill="#161616">20</text>
<line x1="270.4" y1="411.8" x2="273.7" y2="411.8" stroke="#1a1a1a" stroke-width="1.2"/>
<text transform="translate(267.2 414.25) scale(0.950 1)" font-size="6.9" text-anchor="end" fill="#161616">40</text>
<line x1="270.4" y1="395.4" x2="273.7" y2="395.4" stroke="#1a1a1a" stroke-width="1.2"/>
<text transform="translate(267.2 397.85) scale(0.950 1)" font-size="6.9" text-anchor="end" fill="#161616">60</text>
<line x1="270.4" y1="379" x2="273.7" y2="379" stroke="#1a1a1a" stroke-width="1.2"/>
<text transform="translate(267.2 381.45) scale(0.950 1)" font-size="6.9" text-anchor="end" fill="#161616">80</text>
<line x1="282.3" y1="397.5" x2="296.8" y2="397.5" stroke="#1a1a1a" stroke-width="1.35"/>
<text transform="translate(289.55 398.8)" font-size="10" text-anchor="middle" fill="#111" font-weight="700" style="stroke:none">****</text>
<line x1="315.2" y1="397.5" x2="328.5" y2="397.5" stroke="#1a1a1a" stroke-width="1.35"/>
<text transform="translate(321.85 398.8)" font-size="10" text-anchor="middle" fill="#111" font-weight="700" style="stroke:none">***</text>
<line x1="347.8" y1="405.8" x2="362" y2="405.8" stroke="#1a1a1a" stroke-width="1.35"/>
<text transform="translate(354.9 407.1)" font-size="10" text-anchor="middle" fill="#111" font-weight="700" style="stroke:none">****</text>
<text transform="translate(282.1 457.1)" font-size="6.6" text-anchor="middle" fill="#161616">WT</text>
<text transform="translate(296.2 457.1)" font-size="6.6" text-anchor="middle" fill="#161616">KI</text>
<text transform="translate(315 457.1)" font-size="6.6" text-anchor="middle" fill="#161616">WT</text>
<text transform="translate(329 457.1)" font-size="6.6" text-anchor="middle" fill="#161616">KI</text>
<text transform="translate(347.8 457.1)" font-size="6.6" text-anchor="middle" fill="#161616">WT</text>
<text transform="translate(361.8 457.1)" font-size="6.6" text-anchor="middle" fill="#161616">KI</text>
<line x1="280.9" y1="461.6" x2="298.4" y2="461.6" stroke="#1a1a1a" stroke-width="1.35"/>
<text transform="translate(289.65 470.5)" font-size="6.8" text-anchor="middle" fill="#161616">G0</text>
<line x1="313.7" y1="461.6" x2="331.2" y2="461.6" stroke="#1a1a1a" stroke-width="1.35"/>
<text transform="translate(322.45 470.5)" font-size="6.8" text-anchor="middle" fill="#161616">G1</text>
<line x1="346.4" y1="461.6" x2="364.7" y2="461.6" stroke="#1a1a1a" stroke-width="1.35"/>
<text transform="translate(355.55 470.5)" font-size="6.8" text-anchor="middle" fill="#161616">S/G2/M</text>
<text transform="translate(242.2 411.3) rotate(-90) scale(0.809 1)" font-size="9" text-anchor="middle" fill="#161616">% of CD150<tspan dy="-3.78" font-size="6.12">+</tspan><tspan dy="3.78">CD48</tspan><tspan dy="-3.78" font-size="6.12">-</tspan></text>
<text transform="translate(254.5 410.8) rotate(-90) scale(0.740 1)" font-size="9" text-anchor="middle" fill="#161616">KSL cells</text>
<text transform="translate(323.7 501.5)" font-size="8.2" text-anchor="middle" fill="#161616">KSL</text>
<line x1="282.9" y1="550.9" x2="282.9" y2="546.4" stroke="#1c1c1c" stroke-width="1.4"/>
<line x1="279.9" y1="546.4" x2="285.9" y2="546.4" stroke="#1c1c1c" stroke-width="1.4"/>
<rect x="276.7" y="550.4" width="12.4" height="21.6" fill="#2d4b7f"/>
<line x1="282.9" y1="572" x2="282.9" y2="575" stroke="#1a1a1a" stroke-width="1.2"/>
<line x1="297.75" y1="562" x2="297.75" y2="559.4" stroke="#1c1c1c" stroke-width="1.4"/>
<line x1="294.75" y1="559.4" x2="300.75" y2="559.4" stroke="#1c1c1c" stroke-width="1.4"/>
<rect x="291.4" y="561.5" width="12.7" height="10.5" fill="#b10a2d"/>
<line x1="297.75" y1="572" x2="297.75" y2="575" stroke="#1a1a1a" stroke-width="1.2"/>
<line x1="316.8" y1="533" x2="316.8" y2="530" stroke="#1c1c1c" stroke-width="1.4"/>
<line x1="313.8" y1="530" x2="319.8" y2="530" stroke="#1c1c1c" stroke-width="1.4"/>
<rect x="310.6" y="532.5" width="12.4" height="39.5" fill="#2d4b7f"/>
<line x1="316.8" y1="572" x2="316.8" y2="575" stroke="#1a1a1a" stroke-width="1.2"/>
<line x1="331.3" y1="527.7" x2="331.3" y2="524.6" stroke="#1c1c1c" stroke-width="1.4"/>
<line x1="328.3" y1="524.6" x2="334.3" y2="524.6" stroke="#1c1c1c" stroke-width="1.4"/>
<rect x="324.9" y="527.2" width="12.8" height="44.8" fill="#b10a2d"/>
<line x1="331.3" y1="572" x2="331.3" y2="575" stroke="#1a1a1a" stroke-width="1.2"/>
<line x1="350.25" y1="550.7" x2="350.25" y2="547.7" stroke="#1c1c1c" stroke-width="1.4"/>
<line x1="347.25" y1="547.7" x2="353.25" y2="547.7" stroke="#1c1c1c" stroke-width="1.4"/>
<rect x="344" y="550.2" width="12.5" height="21.8" fill="#2d4b7f"/>
<line x1="350.25" y1="572" x2="350.25" y2="575" stroke="#1a1a1a" stroke-width="1.2"/>
<line x1="365.05" y1="544.1" x2="365.05" y2="541" stroke="#1c1c1c" stroke-width="1.4"/>
<line x1="362.05" y1="541" x2="368.05" y2="541" stroke="#1c1c1c" stroke-width="1.4"/>
<rect x="358.8" y="543.6" width="12.5" height="28.4" fill="#b10a2d"/>
<line x1="365.05" y1="572" x2="365.05" y2="575" stroke="#1a1a1a" stroke-width="1.2"/>
<line x1="273.7" y1="500" x2="273.7" y2="572.8" stroke="#1a1a1a" stroke-width="1.5"/>
<line x1="271" y1="572" x2="374.4" y2="572" stroke="#1a1a1a" stroke-width="1.6"/>
<line x1="270.4" y1="572" x2="273.7" y2="572" stroke="#1a1a1a" stroke-width="1.2"/>
<text transform="translate(267.2 574.45) scale(0.950 1)" font-size="6.9" text-anchor="end" fill="#161616">0</text>
<line x1="270.4" y1="555" x2="273.7" y2="555" stroke="#1a1a1a" stroke-width="1.2"/>
<text transform="translate(267.2 557.45) scale(0.950 1)" font-size="6.9" text-anchor="end" fill="#161616">20</text>
<line x1="270.4" y1="538" x2="273.7" y2="538" stroke="#1a1a1a" stroke-width="1.2"/>
<text transform="translate(267.2 540.45) scale(0.950 1)" font-size="6.9" text-anchor="end" fill="#161616">40</text>
<line x1="270.4" y1="521" x2="273.7" y2="521" stroke="#1a1a1a" stroke-width="1.2"/>
<text transform="translate(267.2 523.45) scale(0.950 1)" font-size="6.9" text-anchor="end" fill="#161616">60</text>
<line x1="270.4" y1="504" x2="273.7" y2="504" stroke="#1a1a1a" stroke-width="1.2"/>
<text transform="translate(267.2 506.45) scale(0.950 1)" font-size="6.9" text-anchor="end" fill="#161616">80</text>
<line x1="283" y1="538.9" x2="297.7" y2="538.9" stroke="#1a1a1a" stroke-width="1.35"/>
<text transform="translate(290.35 540.2)" font-size="10" text-anchor="middle" fill="#111" font-weight="700" style="stroke:none">****</text>
<line x1="317" y1="517.1" x2="330" y2="517.1" stroke="#1a1a1a" stroke-width="1.35"/>
<text transform="translate(323.5 518.4)" font-size="10" text-anchor="middle" fill="#111" font-weight="700" style="stroke:none">***</text>
<line x1="351.1" y1="531.3" x2="365.4" y2="531.3" stroke="#1a1a1a" stroke-width="1.35"/>
<text transform="translate(358.25 532.6)" font-size="10" text-anchor="middle" fill="#111" font-weight="700" style="stroke:none">***</text>
<text transform="translate(282.8 584.1)" font-size="6.6" text-anchor="middle" fill="#161616">WT</text>
<text transform="translate(297.3 584.1)" font-size="6.6" text-anchor="middle" fill="#161616">KI</text>
<text transform="translate(316.6 584.1)" font-size="6.6" text-anchor="middle" fill="#161616">WT</text>
<text transform="translate(330.9 584.1)" font-size="6.6" text-anchor="middle" fill="#161616">KI</text>
<text transform="translate(350.3 584.1)" font-size="6.6" text-anchor="middle" fill="#161616">WT</text>
<text transform="translate(364.8 584.1)" font-size="6.6" text-anchor="middle" fill="#161616">KI</text>
<line x1="281.9" y1="589.4" x2="299.9" y2="589.4" stroke="#1a1a1a" stroke-width="1.35"/>
<text transform="translate(290.9 599.1)" font-size="6.8" text-anchor="middle" fill="#161616">G0</text>
<line x1="315.3" y1="589.4" x2="333.3" y2="589.4" stroke="#1a1a1a" stroke-width="1.35"/>
<text transform="translate(324.3 599.1)" font-size="6.8" text-anchor="middle" fill="#161616">G1</text>
<line x1="349.2" y1="589.4" x2="367.5" y2="589.4" stroke="#1a1a1a" stroke-width="1.35"/>
<text transform="translate(358.35 599.1)" font-size="6.8" text-anchor="middle" fill="#161616">S/G2/M</text>
<text transform="translate(254.9 536.2) rotate(-90) scale(0.756 1)" font-size="9" text-anchor="middle" fill="#161616">% of KSL cells</text>
<text transform="translate(391.8 353) scale(1.080 1)" font-size="11" text-anchor="start" fill="#0c0c0c" font-weight="700">J</text>
<text transform="translate(473.2 367) scale(1.053 1)" font-size="8.2" text-anchor="middle" fill="#161616">LT-HSCs</text>
<line x1="445.05" y1="431.5" x2="445.05" y2="427.5" stroke="#1c1c1c" stroke-width="1.4"/>
<line x1="441.55" y1="427.5" x2="448.55" y2="427.5" stroke="#1c1c1c" stroke-width="1.4"/>
<rect x="437.9" y="431" width="14.3" height="13.5" fill="#2d4b7f"/>
<line x1="445.05" y1="444.5" x2="445.05" y2="447.5" stroke="#1a1a1a" stroke-width="1.2"/>
<line x1="462.4" y1="410.5" x2="462.4" y2="379.6" stroke="#1c1c1c" stroke-width="1.4"/>
<line x1="458.9" y1="379.6" x2="465.9" y2="379.6" stroke="#1c1c1c" stroke-width="1.4"/>
<rect x="455.4" y="410" width="14" height="34.5" fill="#b10a2d"/>
<line x1="462.4" y1="444.5" x2="462.4" y2="447.5" stroke="#1a1a1a" stroke-width="1.2"/>
<line x1="484.1" y1="443.6" x2="484.1" y2="441.8" stroke="#1c1c1c" stroke-width="1.4"/>
<line x1="480.6" y1="441.8" x2="487.6" y2="441.8" stroke="#1c1c1c" stroke-width="1.4"/>
<rect x="477" y="443.1" width="14.2" height="1.4" fill="#2d4b7f"/>
<line x1="484.1" y1="444.5" x2="484.1" y2="447.5" stroke="#1a1a1a" stroke-width="1.2"/>
<line x1="500.5" y1="442.8" x2="500.5" y2="440.4" stroke="#1c1c1c" stroke-width="1.4"/>
<line x1="497" y1="440.4" x2="504" y2="440.4" stroke="#1c1c1c" stroke-width="1.4"/>
<rect x="493.6" y="442.3" width="13.8" height="2.2" fill="#b10a2d"/>
<line x1="500.5" y1="444.5" x2="500.5" y2="447.5" stroke="#1a1a1a" stroke-width="1.2"/>
<line x1="434.8" y1="365.6" x2="434.8" y2="445.3" stroke="#1a1a1a" stroke-width="1.5"/>
<line x1="432.3" y1="444.5" x2="510.9" y2="444.5" stroke="#1a1a1a" stroke-width="1.6"/>
<line x1="431.5" y1="444.5" x2="434.8" y2="444.5" stroke="#1a1a1a" stroke-width="1.2"/>
<text transform="translate(428.3 446.95) scale(0.950 1)" font-size="6.9" text-anchor="end" fill="#161616">0</text>
<line x1="431.5" y1="418.9" x2="434.8" y2="418.9" stroke="#1a1a1a" stroke-width="1.2"/>
<text transform="translate(428.3 421.35) scale(0.950 1)" font-size="6.9" text-anchor="end" fill="#161616">5</text>
<line x1="431.5" y1="393.3" x2="434.8" y2="393.3" stroke="#1a1a1a" stroke-width="1.2"/>
<text transform="translate(428.3 395.75) scale(0.950 1)" font-size="6.9" text-anchor="end" fill="#161616">10</text>
<line x1="431.5" y1="367.7" x2="434.8" y2="367.7" stroke="#1a1a1a" stroke-width="1.2"/>
<text transform="translate(428.3 370.15) scale(0.950 1)" font-size="6.9" text-anchor="end" fill="#161616">15</text>
<line x1="447.3" y1="375.2" x2="463.6" y2="375.2" stroke="#1a1a1a" stroke-width="1.35"/>
<text transform="translate(455.45 376.5)" font-size="10" text-anchor="middle" fill="#111" font-weight="700" style="stroke:none">*</text>
<line x1="485.8" y1="431.5" x2="502.5" y2="431.5" stroke="#1a1a1a" stroke-width="1.35"/>
<text transform="translate(494.15 432.8)" font-size="10" text-anchor="middle" fill="#111" font-weight="700" style="stroke:none">*</text>
<text transform="translate(445.7 456.5)" font-size="6.6" text-anchor="middle" fill="#161616">WT</text>
<text transform="translate(462.1 456.5)" font-size="6.6" text-anchor="middle" fill="#161616">KI</text>
<text transform="translate(483.2 456.5)" font-size="6.6" text-anchor="middle" fill="#161616">WT</text>
<text transform="translate(499.5 456.5)" font-size="6.6" text-anchor="middle" fill="#161616">KI</text>
<line x1="445.1" y1="460.7" x2="464.6" y2="460.7" stroke="#1a1a1a" stroke-width="1.35"/>
<text transform="translate(454.85 470.3)" font-size="6.6" text-anchor="middle" fill="#161616">Annexin<tspan dy="-2.77" font-size="4.49">+</tspan></text>
<text transform="translate(454.85 478.9)" font-size="6.6" text-anchor="middle" fill="#161616">7-AAD<tspan dy="-2.77" font-size="4.49">-</tspan></text>
<line x1="482.5" y1="460.7" x2="502.6" y2="460.7" stroke="#1a1a1a" stroke-width="1.35"/>
<text transform="translate(492.55 470.3)" font-size="6.6" text-anchor="middle" fill="#161616">Annexin<tspan dy="-2.77" font-size="4.49">+</tspan></text>
<text transform="translate(492.55 478.9)" font-size="6.6" text-anchor="middle" fill="#161616">7-AAD<tspan dy="-2.77" font-size="4.49">+</tspan></text>
<text transform="translate(405 405) rotate(-90) scale(0.810 1)" font-size="9" text-anchor="middle" fill="#161616">% of CD150<tspan dy="-3.78" font-size="6.12">+</tspan><tspan dy="3.78">CD48</tspan><tspan dy="-3.78" font-size="6.12">-</tspan></text>
<text transform="translate(415.3 406.5) rotate(-90) scale(0.753 1)" font-size="9" text-anchor="middle" fill="#161616">KSL cells</text>
<text transform="translate(472.9 494.8) scale(0.942 1)" font-size="8.2" text-anchor="middle" fill="#161616">KSL</text>
<line x1="444.4" y1="550.5" x2="444.4" y2="544.8" stroke="#1c1c1c" stroke-width="1.4"/>
<line x1="440.9" y1="544.8" x2="447.9" y2="544.8" stroke="#1c1c1c" stroke-width="1.4"/>
<rect x="436.8" y="550" width="15.2" height="22.1" fill="#2d4b7f"/>
<line x1="444.4" y1="572.1" x2="444.4" y2="575.1" stroke="#1a1a1a" stroke-width="1.2"/>
<line x1="461.4" y1="530.3" x2="461.4" y2="511.7" stroke="#1c1c1c" stroke-width="1.4"/>
<line x1="457.9" y1="511.7" x2="464.9" y2="511.7" stroke="#1c1c1c" stroke-width="1.4"/>
<rect x="454.2" y="529.8" width="14.4" height="42.3" fill="#b10a2d"/>
<line x1="461.4" y1="572.1" x2="461.4" y2="575.1" stroke="#1a1a1a" stroke-width="1.2"/>
<line x1="483.2" y1="568.2" x2="483.2" y2="567" stroke="#1c1c1c" stroke-width="1.4"/>
<line x1="479.7" y1="567" x2="486.7" y2="567" stroke="#1c1c1c" stroke-width="1.4"/>
<rect x="476.2" y="567.7" width="14" height="4.4" fill="#2d4b7f"/>
<line x1="483.2" y1="572.1" x2="483.2" y2="575.1" stroke="#1a1a1a" stroke-width="1.2"/>
<line x1="499.7" y1="564.7" x2="499.7" y2="561.5" stroke="#1c1c1c" stroke-width="1.4"/>
<line x1="496.2" y1="561.5" x2="503.2" y2="561.5" stroke="#1c1c1c" stroke-width="1.4"/>
<rect x="492.3" y="564.2" width="14.8" height="7.9" fill="#b10a2d"/>
<line x1="499.7" y1="572.1" x2="499.7" y2="575.1" stroke="#1a1a1a" stroke-width="1.2"/>
<line x1="433.6" y1="491.5" x2="433.6" y2="572.9" stroke="#1a1a1a" stroke-width="1.5"/>
<line x1="430.5" y1="572.1" x2="510.9" y2="572.1" stroke="#1a1a1a" stroke-width="1.6"/>
<line x1="430.3" y1="572.1" x2="433.6" y2="572.1" stroke="#1a1a1a" stroke-width="1.2"/>
<text transform="translate(427.1 574.55) scale(0.950 1)" font-size="6.9" text-anchor="end" fill="#161616">0</text>
<line x1="430.3" y1="533.3" x2="433.6" y2="533.3" stroke="#1a1a1a" stroke-width="1.2"/>
<text transform="translate(427.1 535.75) scale(0.950 1)" font-size="6.9" text-anchor="end" fill="#161616">5</text>
<line x1="430.3" y1="494.5" x2="433.6" y2="494.5" stroke="#1a1a1a" stroke-width="1.2"/>
<text transform="translate(427.1 496.95) scale(0.950 1)" font-size="6.9" text-anchor="end" fill="#161616">10</text>
<line x1="444.6" y1="505" x2="460.8" y2="505" stroke="#1a1a1a" stroke-width="1.35"/>
<text transform="translate(452.7 506.3)" font-size="10" text-anchor="middle" fill="#111" font-weight="700" style="stroke:none">**</text>
<line x1="485" y1="553.3" x2="501.2" y2="553.3" stroke="#1a1a1a" stroke-width="1.35"/>
<text transform="translate(493.1 554.6)" font-size="10" text-anchor="middle" fill="#111" font-weight="700" style="stroke:none">****</text>
<text transform="translate(444.5 583.9)" font-size="6.6" text-anchor="middle" fill="#161616">WT</text>
<text transform="translate(460.6 583.9)" font-size="6.6" text-anchor="middle" fill="#161616">KI</text>
<text transform="translate(482.8 583.9)" font-size="6.6" text-anchor="middle" fill="#161616">WT</text>
<text transform="translate(499.5 583.9)" font-size="6.6" text-anchor="middle" fill="#161616">KI</text>
<line x1="444.2" y1="588.4" x2="463.4" y2="588.4" stroke="#1a1a1a" stroke-width="1.35"/>
<text transform="translate(453.8 598)" font-size="6.6" text-anchor="middle" fill="#161616">Annexin<tspan dy="-2.77" font-size="4.49">+</tspan></text>
<text transform="translate(453.8 606.9)" font-size="6.6" text-anchor="middle" fill="#161616">7-AAD<tspan dy="-2.77" font-size="4.49">-</tspan></text>
<line x1="482.5" y1="588.4" x2="502.3" y2="588.4" stroke="#1a1a1a" stroke-width="1.35"/>
<text transform="translate(492.4 598)" font-size="6.6" text-anchor="middle" fill="#161616">Annexin<tspan dy="-2.77" font-size="4.49">+</tspan></text>
<text transform="translate(492.4 606.9)" font-size="6.6" text-anchor="middle" fill="#161616">7-AAD<tspan dy="-2.77" font-size="4.49">+</tspan></text>
<text transform="translate(413.2 531.9) rotate(-90) scale(0.757 1)" font-size="9" text-anchor="middle" fill="#161616">% of KSL cells</text>
<text transform="translate(9 615) scale(1.080 1)" font-size="11" text-anchor="start" fill="#0c0c0c" font-weight="700">K</text>
<line x1="59.9" y1="652.7" x2="59.9" y2="648.7" stroke="#1c1c1c" stroke-width="1.4"/>
<line x1="56.9" y1="648.7" x2="62.9" y2="648.7" stroke="#1c1c1c" stroke-width="1.4"/>
<rect x="54" y="652.2" width="11.8" height="46.3" fill="#2d4b7f"/>
<line x1="59.9" y1="698.5" x2="59.9" y2="701.5" stroke="#1a1a1a" stroke-width="1.2"/>
<line x1="73.65" y1="640.9" x2="73.65" y2="636.4" stroke="#1c1c1c" stroke-width="1.4"/>
<line x1="70.65" y1="636.4" x2="76.65" y2="636.4" stroke="#1c1c1c" stroke-width="1.4"/>
<rect x="67.7" y="640.4" width="11.9" height="58.1" fill="#b10a2d"/>
<line x1="73.65" y1="698.5" x2="73.65" y2="701.5" stroke="#1a1a1a" stroke-width="1.2"/>
<line x1="91.65" y1="684.7" x2="91.65" y2="681.4" stroke="#1c1c1c" stroke-width="1.4"/>
<line x1="88.65" y1="681.4" x2="94.65" y2="681.4" stroke="#1c1c1c" stroke-width="1.4"/>
<rect x="85.7" y="684.2" width="11.9" height="14.3" fill="#2d4b7f"/>
<line x1="91.65" y1="698.5" x2="91.65" y2="701.5" stroke="#1a1a1a" stroke-width="1.2"/>
<line x1="105.4" y1="694.8" x2="105.4" y2="691" stroke="#1c1c1c" stroke-width="1.4"/>
<line x1="102.4" y1="691" x2="108.4" y2="691" stroke="#1c1c1c" stroke-width="1.4"/>
<rect x="99.3" y="694.3" width="12.2" height="4.2" fill="#b10a2d"/>
<line x1="105.4" y1="698.5" x2="105.4" y2="701.5" stroke="#1a1a1a" stroke-width="1.2"/>
<line x1="122.75" y1="695.9" x2="122.75" y2="694.5" stroke="#1c1c1c" stroke-width="1.4"/>
<line x1="119.75" y1="694.5" x2="125.75" y2="694.5" stroke="#1c1c1c" stroke-width="1.4"/>
<rect x="117" y="695.4" width="11.5" height="3.1" fill="#2d4b7f"/>
<line x1="122.75" y1="698.5" x2="122.75" y2="701.5" stroke="#1a1a1a" stroke-width="1.2"/>
<line x1="136.25" y1="697.3" x2="136.25" y2="696.2" stroke="#1c1c1c" stroke-width="1.4"/>
<line x1="133.25" y1="696.2" x2="139.25" y2="696.2" stroke="#1c1c1c" stroke-width="1.4"/>
<rect x="130.5" y="696.8" width="11.5" height="1.7" fill="#b10a2d"/>
<line x1="136.25" y1="698.5" x2="136.25" y2="701.5" stroke="#1a1a1a" stroke-width="1.2"/>
<line x1="51.3" y1="631.8" x2="51.3" y2="699.3" stroke="#1a1a1a" stroke-width="1.5"/>
<line x1="48.2" y1="698.5" x2="146.6" y2="698.5" stroke="#1a1a1a" stroke-width="1.6"/>
<line x1="48" y1="698.5" x2="51.3" y2="698.5" stroke="#1a1a1a" stroke-width="1.2"/>
<text transform="translate(44.8 700.95) scale(0.950 1)" font-size="6.9" text-anchor="end" fill="#161616">0</text>
<line x1="48" y1="685.73" x2="51.3" y2="685.73" stroke="#1a1a1a" stroke-width="1.2"/>
<text transform="translate(44.8 688.18) scale(0.950 1)" font-size="6.9" text-anchor="end" fill="#161616">20</text>
<line x1="48" y1="672.96" x2="51.3" y2="672.96" stroke="#1a1a1a" stroke-width="1.2"/>
<text transform="translate(44.8 675.41) scale(0.950 1)" font-size="6.9" text-anchor="end" fill="#161616">40</text>
<line x1="48" y1="660.19" x2="51.3" y2="660.19" stroke="#1a1a1a" stroke-width="1.2"/>
<text transform="translate(44.8 662.64) scale(0.950 1)" font-size="6.9" text-anchor="end" fill="#161616">60</text>
<line x1="48" y1="647.42" x2="51.3" y2="647.42" stroke="#1a1a1a" stroke-width="1.2"/>
<text transform="translate(44.8 649.87) scale(0.950 1)" font-size="6.9" text-anchor="end" fill="#161616">80</text>
<line x1="48" y1="634.65" x2="51.3" y2="634.65" stroke="#1a1a1a" stroke-width="1.2"/>
<text transform="translate(44.8 637.1) scale(0.950 1)" font-size="6.9" text-anchor="end" fill="#161616">100</text>
<line x1="59.6" y1="632.4" x2="74.1" y2="632.4" stroke="#1a1a1a" stroke-width="1.35"/>
<text transform="translate(66.85 633.7)" font-size="10" text-anchor="middle" fill="#111" font-weight="700" style="stroke:none">****</text>
<line x1="91.2" y1="676.2" x2="105.8" y2="676.2" stroke="#1a1a1a" stroke-width="1.35"/>
<text transform="translate(98.5 677.5)" font-size="10" text-anchor="middle" fill="#111" font-weight="700" style="stroke:none">****</text>
<line x1="122.1" y1="688.9" x2="136.5" y2="688.9" stroke="#1a1a1a" stroke-width="1.35"/>
<text transform="translate(129.3 690.2)" font-size="10" text-anchor="middle" fill="#111" font-weight="700" style="stroke:none">**</text>
<text transform="translate(59.1 710.7)" font-size="6.6" text-anchor="middle" fill="#161616">WT</text>
<text transform="translate(73.5 710.7)" font-size="6.6" text-anchor="middle" fill="#161616">KI</text>
<text transform="translate(92.3 710.7)" font-size="6.6" text-anchor="middle" fill="#161616">WT</text>
<text transform="translate(106.9 710.7)" font-size="6.6" text-anchor="middle" fill="#161616">KI</text>
<text transform="translate(125.9 710.7)" font-size="6.6" text-anchor="middle" fill="#161616">WT</text>
<text transform="translate(140.6 710.7)" font-size="6.6" text-anchor="middle" fill="#161616">KI</text>
<line x1="57.7" y1="715.4" x2="76.5" y2="715.4" stroke="#1a1a1a" stroke-width="1.35"/>
<text transform="translate(67.1 725.4)" font-size="6.8" text-anchor="middle" fill="#161616">Myeloid</text>
<text transform="translate(67.1 733.2)" font-size="6.8" text-anchor="middle" fill="#161616">cell</text>
<line x1="90.9" y1="715.4" x2="109.7" y2="715.4" stroke="#1a1a1a" stroke-width="1.35"/>
<text transform="translate(100.3 725.4)" font-size="6.8" text-anchor="middle" fill="#161616">B cell</text>
<line x1="125.1" y1="715.4" x2="143.5" y2="715.4" stroke="#1a1a1a" stroke-width="1.35"/>
<text transform="translate(134.3 725.4)" font-size="6.8" text-anchor="middle" fill="#161616">T cell</text>
<text transform="translate(16 665.4) rotate(-90) scale(0.813 1)" font-size="9" text-anchor="middle" fill="#161616">Frequency in CD45.2+</text>
<text transform="translate(27.6 664.7) rotate(-90) scale(0.779 1)" font-size="9" text-anchor="middle" fill="#161616">BM cells</text>
<text transform="translate(164.3 615) scale(1.080 1)" font-size="11" text-anchor="start" fill="#0c0c0c" font-weight="700">L</text>
<line x1="213.2" y1="686.8" x2="213.2" y2="682.3" stroke="#1c1c1c" stroke-width="1.4"/>
<line x1="210.2" y1="682.3" x2="216.2" y2="682.3" stroke="#1c1c1c" stroke-width="1.4"/>
<rect x="207.1" y="686.3" width="12.2" height="12" fill="#2d4b7f"/>
<line x1="213.2" y1="698.3" x2="213.2" y2="701.3" stroke="#1a1a1a" stroke-width="1.2"/>
<line x1="227.95" y1="693.7" x2="227.95" y2="687" stroke="#1c1c1c" stroke-width="1.4"/>
<line x1="224.95" y1="687" x2="230.95" y2="687" stroke="#1c1c1c" stroke-width="1.4"/>
<rect x="221.5" y="693.2" width="12.9" height="5.1" fill="#b10a2d"/>
<line x1="227.95" y1="698.3" x2="227.95" y2="701.3" stroke="#1a1a1a" stroke-width="1.2"/>
<line x1="246.95" y1="692.8" x2="246.95" y2="689.2" stroke="#1c1c1c" stroke-width="1.4"/>
<line x1="243.95" y1="689.2" x2="249.95" y2="689.2" stroke="#1c1c1c" stroke-width="1.4"/>
<rect x="240.8" y="692.3" width="12.3" height="6" fill="#2d4b7f"/>
<line x1="246.95" y1="698.3" x2="246.95" y2="701.3" stroke="#1a1a1a" stroke-width="1.2"/>
<line x1="261.25" y1="697.5" x2="261.25" y2="694.5" stroke="#1c1c1c" stroke-width="1.4"/>
<line x1="258.25" y1="694.5" x2="264.25" y2="694.5" stroke="#1c1c1c" stroke-width="1.4"/>
<rect x="254.7" y="697" width="13.1" height="1.3" fill="#b10a2d"/>
<line x1="261.25" y1="698.3" x2="261.25" y2="701.3" stroke="#1a1a1a" stroke-width="1.2"/>
<line x1="280.95" y1="660.5" x2="280.95" y2="651.4" stroke="#1c1c1c" stroke-width="1.4"/>
<line x1="277.95" y1="651.4" x2="283.95" y2="651.4" stroke="#1c1c1c" stroke-width="1.4"/>
<rect x="274.7" y="660" width="12.5" height="38.3" fill="#2d4b7f"/>
<line x1="280.95" y1="698.3" x2="280.95" y2="701.3" stroke="#1a1a1a" stroke-width="1.2"/>
<line x1="295.6" y1="688.2" x2="295.6" y2="678.5" stroke="#1c1c1c" stroke-width="1.4"/>
<line x1="292.6" y1="678.5" x2="298.6" y2="678.5" stroke="#1c1c1c" stroke-width="1.4"/>
<rect x="289" y="687.7" width="13.2" height="10.6" fill="#b10a2d"/>
<line x1="295.6" y1="698.3" x2="295.6" y2="701.3" stroke="#1a1a1a" stroke-width="1.2"/>
<line x1="203.7" y1="633.5" x2="203.7" y2="699.1" stroke="#1a1a1a" stroke-width="1.5"/>
<line x1="200.5" y1="698.3" x2="305.4" y2="698.3" stroke="#1a1a1a" stroke-width="1.6"/>
<line x1="200.4" y1="698.3" x2="203.7" y2="698.3" stroke="#1a1a1a" stroke-width="1.2"/>
<text transform="translate(197.7 700.55) scale(0.950 1)" font-size="6.9" text-anchor="end" fill="#161616">0</text>
<line x1="200.4" y1="682.82" x2="203.7" y2="682.82" stroke="#1a1a1a" stroke-width="1.2"/>
<text transform="translate(197.7 683.65) scale(0.950 1)" font-size="6.9" text-anchor="end" fill="#161616">5</text>
<line x1="200.4" y1="667.35" x2="203.7" y2="667.35" stroke="#1a1a1a" stroke-width="1.2"/>
<text transform="translate(197.7 666.55) scale(0.950 1)" font-size="6.9" text-anchor="end" fill="#161616">10</text>
<line x1="200.4" y1="651.88" x2="203.7" y2="651.88" stroke="#1a1a1a" stroke-width="1.2"/>
<text transform="translate(197.7 650.05) scale(0.950 1)" font-size="6.9" text-anchor="end" fill="#161616">15</text>
<line x1="200.4" y1="636.4" x2="203.7" y2="636.4" stroke="#1a1a1a" stroke-width="1.2"/>
<text transform="translate(197.7 632.75) scale(0.950 1)" font-size="6.9" text-anchor="end" fill="#161616">20</text>
<line x1="213.5" y1="678.8" x2="230.4" y2="678.8" stroke="#1a1a1a" stroke-width="1.35"/>
<text transform="translate(221.95 680.1)" font-size="10" text-anchor="middle" fill="#111" font-weight="700" style="stroke:none">*</text>
<line x1="246.6" y1="686.6" x2="263.9" y2="686.6" stroke="#1a1a1a" stroke-width="1.35"/>
<text transform="translate(255.25 687.9)" font-size="10" text-anchor="middle" fill="#111" font-weight="700" style="stroke:none">**</text>
<line x1="280.4" y1="647.3" x2="298.6" y2="647.3" stroke="#1a1a1a" stroke-width="1.35"/>
<text transform="translate(289.5 648.6)" font-size="10" text-anchor="middle" fill="#111" font-weight="700" style="stroke:none">****</text>
<text transform="translate(213.5 711)" font-size="6.6" text-anchor="middle" fill="#161616">WT</text>
<text transform="translate(227.8 711)" font-size="6.6" text-anchor="middle" fill="#161616">KI</text>
<text transform="translate(246.7 711)" font-size="6.6" text-anchor="middle" fill="#161616">WT</text>
<text transform="translate(261 711)" font-size="6.6" text-anchor="middle" fill="#161616">KI</text>
<text transform="translate(280.7 711)" font-size="6.6" text-anchor="middle" fill="#161616">WT</text>
<text transform="translate(295 711)" font-size="6.6" text-anchor="middle" fill="#161616">KI</text>
<line x1="211.6" y1="716.1" x2="230.4" y2="716.1" stroke="#1a1a1a" stroke-width="1.35"/>
<line x1="245.4" y1="716.1" x2="264" y2="716.1" stroke="#1a1a1a" stroke-width="1.35"/>
<line x1="279.5" y1="716.1" x2="297.8" y2="716.1" stroke="#1a1a1a" stroke-width="1.35"/>
<text transform="translate(226.3 722.3) rotate(-45)" font-size="7.4" text-anchor="end" fill="#161616">pre-pro B</text>
<text transform="translate(257.2 722.3) rotate(-45)" font-size="7.4" text-anchor="end" fill="#161616">Immature B</text>
<text transform="translate(291.4 722.3) rotate(-45)" font-size="7.4" text-anchor="end" fill="#161616">Mature B</text>
<text transform="translate(171.3 665.4) rotate(-90) scale(0.813 1)" font-size="9" text-anchor="middle" fill="#161616">Frequency in CD45.2+</text>
<text transform="translate(182.6 664.9) rotate(-90) scale(0.779 1)" font-size="9" text-anchor="middle" fill="#161616">BM cells</text>
<defs>
<filter id="spk1" x="0" y="0" width="100%" height="100%" color-interpolation-filters="sRGB">
<feTurbulence type="fractalNoise" baseFrequency="0.5" numOctaves="2" seed="7" result="n1"/>
<feColorMatrix in="n1" type="matrix" values="0 0 0 0 0.81  0 0 0 0 0.76  0 0 0 0 0.82  2.1 0 0 0 -0.72" result="s1"/>
<feTurbulence type="fractalNoise" baseFrequency="0.13" numOctaves="2" seed="3" result="n2"/>
<feColorMatrix in="n2" type="matrix" values="0 0 0 0 0.80  0 0 0 0 0.77  0 0 0 0 0.81  2.6 0 0 0 -1.15" result="s2"/>
<feMerge result="m"><feMergeNode in="SourceGraphic"/><feMergeNode in="s1"/><feMergeNode in="s2"/></feMerge>
<feGaussianBlur in="m" stdDeviation="0.5" result="mb"/>
<feComposite in="mb" in2="SourceGraphic" operator="in"/>
</filter>
<filter id="spk2" x="0" y="0" width="100%" height="100%" color-interpolation-filters="sRGB">
<feTurbulence type="fractalNoise" baseFrequency="0.5" numOctaves="2" seed="11" result="n1"/>
<feColorMatrix in="n1" type="matrix" values="0 0 0 0 0.76  0 0 0 0 0.71  0 0 0 0 0.76  2.1 0 0 0 -0.75" result="s1"/>
<feTurbulence type="fractalNoise" baseFrequency="0.11" numOctaves="2" seed="5" result="n2"/>
<feColorMatrix in="n2" type="matrix" values="0 0 0 0 0.78  0 0 0 0 0.71  0 0 0 0 0.76  2.6 0 0 0 -1.25" result="s2"/>
<feMerge result="m"><feMergeNode in="SourceGraphic"/><feMergeNode in="s1"/><feMergeNode in="s2"/></feMerge>
<feGaussianBlur in="m" stdDeviation="0.5" result="mb"/>
<feComposite in="mb" in2="SourceGraphic" operator="in"/>
</filter>
<filter id="spk3" x="0" y="0" width="100%" height="100%" color-interpolation-filters="sRGB">
<feTurbulence type="fractalNoise" baseFrequency="0.2" numOctaves="2" seed="9" result="n1"/>
<feColorMatrix in="n1" type="matrix" values="0 0 0 0 0.86  0 0 0 0 0.72  0 0 0 0 0.78  2.0 0 0 0 -0.8" result="s1"/>
<feMerge result="m"><feMergeNode in="SourceGraphic"/><feMergeNode in="s1"/></feMerge>
<feComposite in="m" in2="SourceGraphic" operator="in"/>
</filter>
<clipPath id="cw"><rect x="369.5" y="7.5" width="142.7" height="79.5"/></clipPath>
<clipPath id="ck"><rect x="369.5" y="90" width="142.7" height="80.2"/></clipPath>
</defs>
<g clip-path="url(#cw)">
<rect x="369.5" y="7.5" width="142.7" height="79.5" fill="#cbbfca"/>
<polygon points="369.5,17.5 380,15.5 395,12.3 412,9.8 438,7.5 512.2,7.5 512.2,68.5 475,72.5 436,76.6 400,79.2 369.5,79.8" fill="#8d7a96" filter="url(#spk1)"/>
<ellipse cx="396" cy="72" rx="30" ry="7" fill="#ddd6de" opacity="0.3"/>
<rect x="467.5" y="81.1" width="40" height="1.8" fill="#1c161c"/>
<rect x="486.5" y="83.6" width="3.5" height="1.1" fill="#eee8ee"/>
</g>
<rect x="369.5" y="7.5" width="142.7" height="79.3" fill="none" stroke="#3c363b" stroke-width="1.1"/>
<line x1="369" y1="86.6" x2="512.8" y2="86.6" stroke="#1b161a" stroke-width="1.9"/>
<g clip-path="url(#ck)">
<rect x="369.5" y="90" width="142.7" height="80.2" fill="#cb90a7" filter="url(#spk3)"/>
<polygon points="369.5,160 409,161.5 452.7,164.6 464.4,167 471,170.2 369.5,170.2" fill="#cbd4c5"/>
<polygon points="369.5,90 512.2,90 512.2,141 508,143 502,147 493.6,152.6 480,153.2 452.7,152.8 440,151 423.5,148.4 412,143 404,140.2 395,141 380,143.5 369.5,143" fill="#74677a" filter="url(#spk2)"/>
<path d="M443.5 111.5 L452 110 L458 108.6 L465 110 L461 113 L464 116 L457 113.6 L450 113 Z" fill="#b8305c" opacity="0.6"/>
<rect x="467.5" y="163.9" width="40" height="1.8" fill="#1c161c"/>
</g>
<rect x="369.5" y="90.2" width="142.7" height="80" fill="none" stroke="#2e282d" stroke-width="1.2"/>
<text transform="translate(105.4 359.2) scale(1.080 1)" font-size="11" text-anchor="start" fill="#0c0c0c" font-weight="700">I</text>
<text transform="translate(178.2 371.1) scale(1.093 1)" font-size="8.5" text-anchor="middle" fill="#161616">CD150<tspan dy="-3.57" font-size="5.78">+</tspan><tspan dy="3.57">CD48</tspan><tspan dy="-3.57" font-size="5.78">-</tspan><tspan dy="3.57"> KSL cells</tspan></text>
<text transform="translate(177.6 381.7) scale(0.967 1)" font-size="8.5" text-anchor="middle" fill="#161616">(LT-HSCs)</text>
<text transform="translate(99.6 422.3) scale(1.020 1)" font-size="8.5" text-anchor="start" fill="#161616">WT</text>
<text transform="translate(102.7 523.7) scale(0.970 1)" font-size="8.5" text-anchor="start" fill="#161616">KI</text>
<g transform="translate(162.9 430.6)" fill="none" stroke-linejoin="round">
<path d="M5 -7 C6 -13 12 -19.5 20 -22 C25.5 -23.5 29.5 -21 27.5 -16.5 C24.5 -11 15 -7.5 9.5 -4.5 C6.5 -3.5 4.5 -4 5 -7 Z" transform="translate(17 -14) scale(1.0) translate(-17 14)" stroke="#c2c2c2" stroke-width="0.55"/>
<path d="M5 -7 C6 -13 12 -19.5 20 -22 C25.5 -23.5 29.5 -21 27.5 -16.5 C24.5 -11 15 -7.5 9.5 -4.5 C6.5 -3.5 4.5 -4 5 -7 Z" transform="translate(17 -14) scale(0.8) translate(-17 14)" stroke="#b4b4b4" stroke-width="0.69"/>
<path d="M5 -7 C6 -13 12 -19.5 20 -22 C25.5 -23.5 29.5 -21 27.5 -16.5 C24.5 -11 15 -7.5 9.5 -4.5 C6.5 -3.5 4.5 -4 5 -7 Z" transform="translate(17 -14) scale(0.6) translate(-17 14)" stroke="#a8a8a8" stroke-width="0.83"/>
<path d="M5 -7 C6 -13 12 -19.5 20 -22 C25.5 -23.5 29.5 -21 27.5 -16.5 C24.5 -11 15 -7.5 9.5 -4.5 C6.5 -3.5 4.5 -4 5 -7 Z" transform="translate(17 -14) scale(0.38) translate(-17 14)" stroke="#a0a0a0" stroke-width="1.32"/>
<path d="M-5.2 0 C-5.6 5 -1.5 7 2 6.4 C5.8 5.6 6.4 1.5 6.3 -3 C6.6 -7 9 -10 8.6 -14 C8 -18 3.2 -19 0 -17 C-4 -14.5 -5 -6 -5.2 0 Z" transform="translate(1.5 -5) scale(1.0) translate(-1.5 5)" stroke="#8c8c8c" stroke-width="0.7" fill="#444" fill-opacity="0.1"/>
<path d="M-5.2 0 C-5.6 5 -1.5 7 2 6.4 C5.8 5.6 6.4 1.5 6.3 -3 C6.6 -7 9 -10 8.6 -14 C8 -18 3.2 -19 0 -17 C-4 -14.5 -5 -6 -5.2 0 Z" transform="translate(1.5 -5) scale(0.88) translate(-1.5 5)" stroke="#6e6e6e" stroke-width="0.91" fill="#444" fill-opacity="0.12"/>
<path d="M-5.2 0 C-5.6 5 -1.5 7 2 6.4 C5.8 5.6 6.4 1.5 6.3 -3 C6.6 -7 9 -10 8.6 -14 C8 -18 3.2 -19 0 -17 C-4 -14.5 -5 -6 -5.2 0 Z" transform="translate(1.5 -5) scale(0.76) translate(-1.5 5)" stroke="#5a5a5a" stroke-width="1.05" fill="#444" fill-opacity="0.12"/>
<path d="M-5.2 0 C-5.6 5 -1.5 7 2 6.4 C5.8 5.6 6.4 1.5 6.3 -3 C6.6 -7 9 -10 8.6 -14 C8 -18 3.2 -19 0 -17 C-4 -14.5 -5 -6 -5.2 0 Z" transform="translate(1.5 -5) scale(0.62) translate(-1.5 5)" stroke="#505050" stroke-width="1.13" fill="#444" fill-opacity="0.1"/>
<ellipse cx="3.8" cy="-11.6" rx="2.2" ry="3" stroke="#666" stroke-width="0.7" fill="#fff" fill-opacity="0.35"/>
<ellipse cx="0" cy="0" rx="3" ry="3.4" stroke="#2e2e2e" stroke-width="1.7" fill="#fff" fill-opacity="0.5"/>
<ellipse cx="0.1" cy="0" rx="1.1" ry="1.4" stroke="#555" stroke-width="0.5" fill="none"/>
</g>
<line x1="172" y1="386.5" x2="172" y2="452.6" stroke="#8e8e8e" stroke-width="0.75"/>
<line x1="144.7" y1="426" x2="212.7" y2="426" stroke="#8e8e8e" stroke-width="0.75"/>
<rect x="144.7" y="386.5" width="68" height="66.1" fill="none" stroke="#b0b0b0" stroke-width="0.8"/>
<line x1="143.3" y1="392.45" x2="144.7" y2="392.45" stroke="#444" stroke-width="0.6"/>
<text transform="translate(142.3 392.65) rotate(-60)" font-size="2.8" text-anchor="end" fill="#555" style="stroke:none">10<tspan dy="-1.18" font-size="1.9">5</tspan></text>
<line x1="143.3" y1="406.99" x2="144.7" y2="406.99" stroke="#444" stroke-width="0.6"/>
<text transform="translate(142.3 407.19) rotate(-60)" font-size="2.8" text-anchor="end" fill="#555" style="stroke:none">10<tspan dy="-1.18" font-size="1.9">4</tspan></text>
<line x1="143.3" y1="423.19" x2="144.7" y2="423.19" stroke="#444" stroke-width="0.6"/>
<text transform="translate(142.3 423.39) rotate(-60)" font-size="2.8" text-anchor="end" fill="#555" style="stroke:none">10<tspan dy="-1.18" font-size="1.9">3</tspan></text>
<line x1="143.3" y1="438.72" x2="144.7" y2="438.72" stroke="#444" stroke-width="0.6"/>
<text transform="translate(142.3 438.92) rotate(-60)" font-size="2.8" text-anchor="end" fill="#555" style="stroke:none">10<tspan dy="-1.18" font-size="1.9">2</tspan></text>
<line x1="143.3" y1="447.97" x2="144.7" y2="447.97" stroke="#444" stroke-width="0.6"/>
<text transform="translate(142.3 448.17) rotate(-60)" font-size="2.8" text-anchor="end" fill="#555" style="stroke:none">0</text>
<line x1="145.6" y1="452.6" x2="145.6" y2="454" stroke="#444" stroke-width="0.6"/>
<text transform="translate(145.6 457.8)" font-size="2.8" text-anchor="middle" fill="#555" style="stroke:none">0</text>
<line x1="158.4" y1="452.6" x2="158.4" y2="454" stroke="#444" stroke-width="0.6"/>
<text transform="translate(158.4 457.8)" font-size="2.8" text-anchor="middle" fill="#555" style="stroke:none">50K</text>
<line x1="171.2" y1="452.6" x2="171.2" y2="454" stroke="#444" stroke-width="0.6"/>
<text transform="translate(171.2 457.8)" font-size="2.8" text-anchor="middle" fill="#555" style="stroke:none">100K</text>
<line x1="184" y1="452.6" x2="184" y2="454" stroke="#444" stroke-width="0.6"/>
<text transform="translate(184 457.8)" font-size="2.8" text-anchor="middle" fill="#555" style="stroke:none">150K</text>
<line x1="196.8" y1="452.6" x2="196.8" y2="454" stroke="#444" stroke-width="0.6"/>
<text transform="translate(196.8 457.8)" font-size="2.8" text-anchor="middle" fill="#555" style="stroke:none">200K</text>
<line x1="209.6" y1="452.6" x2="209.6" y2="454" stroke="#444" stroke-width="0.6"/>
<text transform="translate(209.6 457.8)" font-size="2.8" text-anchor="middle" fill="#555" style="stroke:none">250K</text>
<rect x="143.5" y="447.6" width="1.2" height="3" fill="#333"/>
<text transform="translate(147.8 392.9)" font-size="6.9" text-anchor="start" fill="#161616">31.3</text>
<text transform="translate(209.2 392.9)" font-size="6.9" text-anchor="end" fill="#161616">19.0</text>
<text transform="translate(147.8 450.6)" font-size="6.9" text-anchor="start" fill="#161616">49.0</text>
<text transform="translate(209.2 450.6)" font-size="6.9" text-anchor="end" fill="#161616">0.73</text>
<line x1="132.6" y1="463.9" x2="132.6" y2="400.8" stroke="#111" stroke-width="1.2"/>
<polygon points="132.6,396.8 130.3,402.4 134.9,402.4" fill="#111"/>
<line x1="132" y1="463.3" x2="206.6" y2="463.3" stroke="#111" stroke-width="1.2"/>
<polygon points="210.6,463.3 205,461 205,465.6" fill="#111"/>
<text transform="translate(128.2 432.1) rotate(-90) scale(0.846 1)" font-size="8.4" text-anchor="middle" fill="#161616">Ki-67</text>
<text transform="translate(170.2 473.8) scale(0.809 1)" font-size="9" text-anchor="middle" fill="#161616">Hoechst 33342</text>
<g transform="translate(163.2 532.1)" fill="none" stroke-linejoin="round">
<path d="M5 -7 C6 -13 12 -19.5 20 -22 C25.5 -23.5 29.5 -21 27.5 -16.5 C24.5 -11 15 -7.5 9.5 -4.5 C6.5 -3.5 4.5 -4 5 -7 Z" transform="translate(17 -14) scale(1.0) translate(-17 14)" stroke="#c2c2c2" stroke-width="0.55"/>
<path d="M5 -7 C6 -13 12 -19.5 20 -22 C25.5 -23.5 29.5 -21 27.5 -16.5 C24.5 -11 15 -7.5 9.5 -4.5 C6.5 -3.5 4.5 -4 5 -7 Z" transform="translate(17 -14) scale(0.8) translate(-17 14)" stroke="#b4b4b4" stroke-width="0.69"/>
<path d="M5 -7 C6 -13 12 -19.5 20 -22 C25.5 -23.5 29.5 -21 27.5 -16.5 C24.5 -11 15 -7.5 9.5 -4.5 C6.5 -3.5 4.5 -4 5 -7 Z" transform="translate(17 -14) scale(0.6) translate(-17 14)" stroke="#a8a8a8" stroke-width="0.83"/>
<path d="M5 -7 C6 -13 12 -19.5 20 -22 C25.5 -23.5 29.5 -21 27.5 -16.5 C24.5 -11 15 -7.5 9.5 -4.5 C6.5 -3.5 4.5 -4 5 -7 Z" transform="translate(17 -14) scale(0.38) translate(-17 14)" stroke="#a0a0a0" stroke-width="1.32"/>
<path d="M-5.2 0 C-5.6 5 -1.5 7 2 6.4 C5.8 5.6 6.4 1.5 6.3 -3 C6.6 -7 9 -10 8.6 -14 C8 -18 3.2 -19 0 -17 C-4 -14.5 -5 -6 -5.2 0 Z" transform="translate(1.5 -5) scale(1.0) translate(-1.5 5)" stroke="#8c8c8c" stroke-width="0.7" fill="#444" fill-opacity="0.1"/>
<path d="M-5.2 0 C-5.6 5 -1.5 7 2 6.4 C5.8 5.6 6.4 1.5 6.3 -3 C6.6 -7 9 -10 8.6 -14 C8 -18 3.2 -19 0 -17 C-4 -14.5 -5 -6 -5.2 0 Z" transform="translate(1.5 -5) scale(0.88) translate(-1.5 5)" stroke="#6e6e6e" stroke-width="0.91" fill="#444" fill-opacity="0.12"/>
<path d="M-5.2 0 C-5.6 5 -1.5 7 2 6.4 C5.8 5.6 6.4 1.5 6.3 -3 C6.6 -7 9 -10 8.6 -14 C8 -18 3.2 -19 0 -17 C-4 -14.5 -5 -6 -5.2 0 Z" transform="translate(1.5 -5) scale(0.76) translate(-1.5 5)" stroke="#5a5a5a" stroke-width="1.05" fill="#444" fill-opacity="0.12"/>
<path d="M-5.2 0 C-5.6 5 -1.5 7 2 6.4 C5.8 5.6 6.4 1.5 6.3 -3 C6.6 -7 9 -10 8.6 -14 C8 -18 3.2 -19 0 -17 C-4 -14.5 -5 -6 -5.2 0 Z" transform="translate(1.5 -5) scale(0.62) translate(-1.5 5)" stroke="#505050" stroke-width="1.13" fill="#444" fill-opacity="0.1"/>
<ellipse cx="3.8" cy="-11.6" rx="2.2" ry="3" stroke="#666" stroke-width="0.7" fill="#fff" fill-opacity="0.35"/>
<ellipse cx="0" cy="0" rx="3" ry="3.4" stroke="#2e2e2e" stroke-width="1.7" fill="#fff" fill-opacity="0.5"/>
<ellipse cx="0.1" cy="0" rx="1.1" ry="1.4" stroke="#555" stroke-width="0.5" fill="none"/>
</g>
<line x1="172" y1="486.6" x2="172" y2="554.6" stroke="#4a4a4a" stroke-width="0.75"/>
<line x1="144.7" y1="527.3" x2="212.7" y2="527.3" stroke="#4a4a4a" stroke-width="0.75"/>
<rect x="144.7" y="486.6" width="68" height="68" fill="none" stroke="#4a4a4a" stroke-width="0.8"/>
<line x1="143.3" y1="492.72" x2="144.7" y2="492.72" stroke="#444" stroke-width="0.6"/>
<text transform="translate(142.3 492.92) rotate(-60)" font-size="2.8" text-anchor="end" fill="#555" style="stroke:none">10<tspan dy="-1.18" font-size="1.9">5</tspan></text>
<line x1="143.3" y1="507.68" x2="144.7" y2="507.68" stroke="#444" stroke-width="0.6"/>
<text transform="translate(142.3 507.88) rotate(-60)" font-size="2.8" text-anchor="end" fill="#555" style="stroke:none">10<tspan dy="-1.18" font-size="1.9">4</tspan></text>
<line x1="143.3" y1="524.34" x2="144.7" y2="524.34" stroke="#444" stroke-width="0.6"/>
<text transform="translate(142.3 524.54) rotate(-60)" font-size="2.8" text-anchor="end" fill="#555" style="stroke:none">10<tspan dy="-1.18" font-size="1.9">3</tspan></text>
<line x1="143.3" y1="540.32" x2="144.7" y2="540.32" stroke="#444" stroke-width="0.6"/>
<text transform="translate(142.3 540.52) rotate(-60)" font-size="2.8" text-anchor="end" fill="#555" style="stroke:none">10<tspan dy="-1.18" font-size="1.9">2</tspan></text>
<line x1="143.3" y1="549.84" x2="144.7" y2="549.84" stroke="#444" stroke-width="0.6"/>
<text transform="translate(142.3 550.04) rotate(-60)" font-size="2.8" text-anchor="end" fill="#555" style="stroke:none">0</text>
<line x1="145.6" y1="554.6" x2="145.6" y2="556" stroke="#444" stroke-width="0.6"/>
<text transform="translate(145.6 559.8)" font-size="2.8" text-anchor="middle" fill="#555" style="stroke:none">0</text>
<line x1="158.4" y1="554.6" x2="158.4" y2="556" stroke="#444" stroke-width="0.6"/>
<text transform="translate(158.4 559.8)" font-size="2.8" text-anchor="middle" fill="#555" style="stroke:none">50K</text>
<line x1="171.2" y1="554.6" x2="171.2" y2="556" stroke="#444" stroke-width="0.6"/>
<text transform="translate(171.2 559.8)" font-size="2.8" text-anchor="middle" fill="#555" style="stroke:none">100K</text>
<line x1="184" y1="554.6" x2="184" y2="556" stroke="#444" stroke-width="0.6"/>
<text transform="translate(184 559.8)" font-size="2.8" text-anchor="middle" fill="#555" style="stroke:none">150K</text>
<line x1="196.8" y1="554.6" x2="196.8" y2="556" stroke="#444" stroke-width="0.6"/>
<text transform="translate(196.8 559.8)" font-size="2.8" text-anchor="middle" fill="#555" style="stroke:none">200K</text>
<line x1="209.6" y1="554.6" x2="209.6" y2="556" stroke="#444" stroke-width="0.6"/>
<text transform="translate(209.6 559.8)" font-size="2.8" text-anchor="middle" fill="#555" style="stroke:none">250K</text>
<rect x="143.5" y="549.6" width="1.2" height="3" fill="#333"/>
<text transform="translate(147.8 493.9)" font-size="6.9" text-anchor="start" fill="#161616">41.8</text>
<text transform="translate(209.2 493.9)" font-size="6.9" text-anchor="end" fill="#161616">28.1</text>
<text transform="translate(147.8 549.8)" font-size="6.9" text-anchor="start" fill="#161616">29.9</text>
<text transform="translate(209.2 549.8)" font-size="6.9" text-anchor="end" fill="#161616">0.25</text>
<line x1="133.1" y1="565.9" x2="133.1" y2="506.2" stroke="#111" stroke-width="1.2"/>
<polygon points="133.1,502.2 130.8,507.8 135.4,507.8" fill="#111"/>
<line x1="132.5" y1="565.3" x2="204.2" y2="565.3" stroke="#111" stroke-width="1.2"/>
<polygon points="208.2,565.3 202.6,563 202.6,567.6" fill="#111"/>
<text transform="translate(130.3 535.5) rotate(-90) scale(0.846 1)" font-size="8.4" text-anchor="middle" fill="#161616">Ki-67</text>
<text transform="translate(170.2 574.9) scale(0.809 1)" font-size="9" text-anchor="middle" fill="#161616">Hoechst 33342</text>
</g>
<g opacity="0.999">
<rect x="0" y="0" width="520" height="1.15" fill="#060606"/>
<rect x="0" y="0" width="1.35" height="756" fill="#060606"/>
<rect x="518.4" y="0" width="1.6" height="756" fill="#060606"/>
<rect x="0" y="754.4" width="520" height="1.6" fill="#060606"/>
</g>
</svg>
</body>
</html>
